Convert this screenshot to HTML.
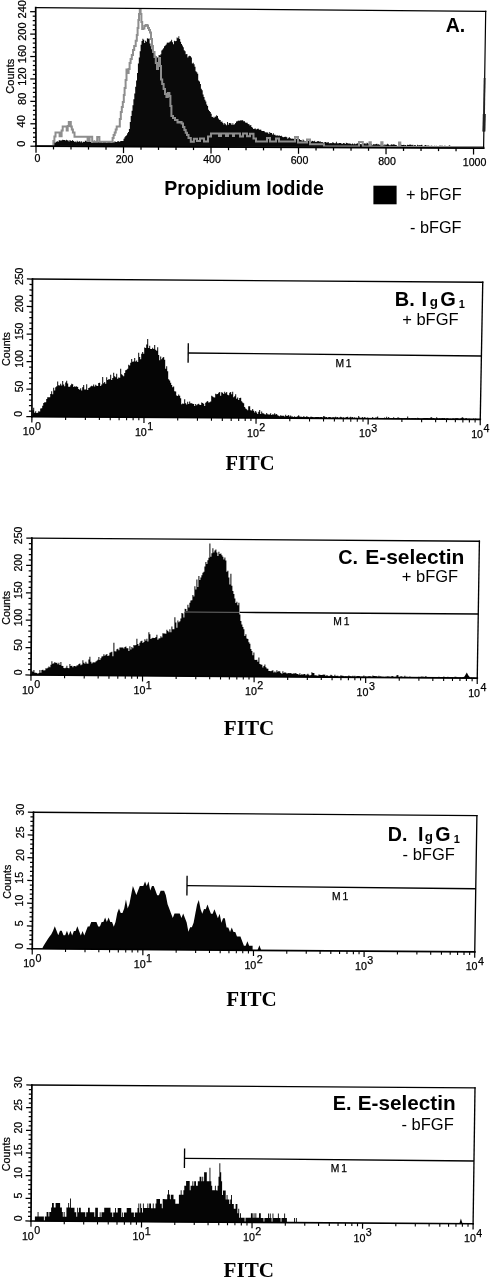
<!DOCTYPE html>
<html lang="en"><head><meta charset="utf-8"><title>Flow cytometry histograms</title>
<style>html,body{margin:0;padding:0;background:#fff}body{width:490px;height:1280px;overflow:hidden}svg{display:block}text{fill:#000}</style>
</head><body>
<svg width="490" height="1280" viewBox="0 0 490 1280">
<rect width="490" height="1280" fill="#fff"/>
<g id="panelA">
<path d="M51.5 146.57 L51.5 146.25 L52.4 146.25 L52.4 144.9 L53.3 144.9 L53.3 143.14 L54.2 143.14 L54.2 142.3 L55.1 142.3 L55.1 142.43 L56 142.43 L56 141.66 L56.9 141.66 L56.9 141.25 L57.8 141.25 L57.8 141.86 L58.7 141.86 L58.7 140.32 L59.6 140.32 L59.6 140.32 L60.5 140.32 L60.5 140.72 L61.4 140.72 L61.4 140.32 L62.3 140.32 L62.3 139.84 L63.2 139.84 L63.2 140.07 L64.1 140.07 L64.1 139.92 L65 139.92 L65 140.53 L65.9 140.53 L65.9 139.79 L66.8 139.79 L66.8 140.28 L67.7 140.28 L67.7 140.47 L68.6 140.47 L68.6 141.47 L69.5 141.47 L69.5 139.97 L70.4 139.97 L70.4 140.75 L71.3 140.75 L71.3 141.05 L72.2 141.05 L72.2 139.94 L73.1 139.94 L73.1 141.03 L74 141.03 L74 141.8 L74.9 141.8 L74.9 141.38 L75.8 141.38 L75.8 142.37 L76.7 142.37 L76.7 140.87 L77.6 140.87 L77.6 141.66 L78.5 141.66 L78.5 141.85 L79.4 141.85 L79.4 141.01 L80.3 141.01 L80.3 142.3 L81.2 142.3 L81.2 141.27 L82.1 141.27 L82.1 142.51 L83 142.51 L83 141.85 L83.9 141.85 L83.9 142.12 L84.8 142.12 L84.8 140.87 L85.7 140.87 L85.7 140.73 L86.6 140.73 L86.6 141.73 L87.5 141.73 L87.5 141.18 L88.4 141.18 L88.4 141.67 L89.3 141.67 L89.3 141.33 L90.2 141.33 L90.2 141.96 L91.1 141.96 L91.1 142.42 L92 142.42 L92 142.49 L92.9 142.49 L92.9 141.48 L93.8 141.48 L93.8 140.62 L94.7 140.62 L94.7 141.57 L95.6 141.57 L95.6 141.96 L96.5 141.96 L96.5 140.84 L97.4 140.84 L97.4 141.64 L98.3 141.64 L98.3 141.72 L99.2 141.72 L99.2 141.67 L100.1 141.67 L100.1 141.86 L101 141.86 L101 141.94 L101.9 141.94 L101.9 142.47 L102.8 142.47 L102.8 141.57 L103.7 141.57 L103.7 141.84 L104.6 141.84 L104.6 141.24 L105.5 141.24 L105.5 141.97 L106.4 141.97 L106.4 142.69 L107.3 142.69 L107.3 141.85 L108.2 141.85 L108.2 141.01 L109.1 141.01 L109.1 141.98 L110 141.98 L110 142.22 L110.9 142.22 L110.9 142.38 L111.8 142.38 L111.8 142.33 L112.7 142.33 L112.7 142.01 L113.6 142.01 L113.6 142.44 L114.5 142.44 L114.5 141.22 L115.4 141.22 L115.4 142.07 L116.3 142.07 L116.3 141.91 L117.2 141.91 L117.2 141.31 L118.1 141.31 L118.1 141.28 L119 141.28 L119 141.84 L119.9 141.84 L119.9 141.34 L120.8 141.34 L120.8 140.91 L121.7 140.91 L121.7 141.12 L122.6 141.12 L122.6 140.99 L123.5 140.99 L123.5 138.73 L124.4 138.73 L124.4 137.31 L125.3 137.31 L125.3 135.99 L126.2 135.99 L126.2 135.21 L127.1 135.21 L127.1 133.26 L128 133.26 L128 131.99 L128.9 131.99 L128.9 128.88 L129.8 128.88 L129.8 121.97 L130.7 121.97 L130.7 115.96 L131.6 115.96 L131.6 110.86 L132.5 110.86 L132.5 105.18 L133.4 105.18 L133.4 99.29 L134.3 99.29 L134.3 93.48 L135.2 93.48 L135.2 86.74 L136.1 86.74 L136.1 80.57 L137 80.57 L137 73.11 L137.9 73.11 L137.9 63.56 L138.8 63.56 L138.8 57.51 L139.7 57.51 L139.7 51.34 L140.6 51.34 L140.6 44.67 L141.5 44.67 L141.5 41 L142.4 41 L142.4 38.68 L143.3 38.68 L143.3 39.66 L144.2 39.66 L144.2 43.01 L145.1 43.01 L145.1 40.68 L146 40.68 L146 41.73 L146.9 41.73 L146.9 38.18 L147.8 38.18 L147.8 38.82 L148.7 38.82 L148.7 38.42 L149.6 38.42 L149.6 43.54 L150.5 43.54 L150.5 46.36 L151.4 46.36 L151.4 49.23 L152.3 49.23 L152.3 51.11 L153.2 51.11 L153.2 52.91 L154.1 52.91 L154.1 56.29 L155 56.29 L155 55.78 L155.9 55.78 L155.9 56.37 L156.8 56.37 L156.8 57.31 L157.7 57.31 L157.7 57.97 L158.6 57.97 L158.6 54.98 L159.5 54.98 L159.5 55.61 L160.4 55.61 L160.4 54.24 L161.3 54.24 L161.3 50.62 L162.2 50.62 L162.2 49.44 L163.1 49.44 L163.1 48.37 L164 48.37 L164 46.23 L164.9 46.23 L164.9 45.51 L165.8 45.51 L165.8 44.54 L166.7 44.54 L166.7 42.66 L167.6 42.66 L167.6 42.54 L168.5 42.54 L168.5 42.79 L169.4 42.79 L169.4 41.71 L170.3 41.71 L170.3 41.35 L171.2 41.35 L171.2 39.86 L172.1 39.86 L172.1 42.25 L173 42.25 L173 44.33 L173.9 44.33 L173.9 40.63 L174.8 40.63 L174.8 41.2 L175.7 41.2 L175.7 40.9 L176.6 40.9 L176.6 37.38 L177.5 37.38 L177.5 38.26 L178.4 38.26 L178.4 36.17 L179.3 36.17 L179.3 38.97 L180.2 38.97 L180.2 41.76 L181.1 41.76 L181.1 44.08 L182 44.08 L182 45.4 L182.9 45.4 L182.9 47.34 L183.8 47.34 L183.8 50.2 L184.7 50.2 L184.7 51.16 L185.6 51.16 L185.6 54.33 L186.5 54.33 L186.5 54.07 L187.4 54.07 L187.4 57.45 L188.3 57.45 L188.3 56.16 L189.2 56.16 L189.2 55.73 L190.1 55.73 L190.1 56.35 L191 56.35 L191 57.6 L191.9 57.6 L191.9 63.42 L192.8 63.42 L192.8 62.68 L193.7 62.68 L193.7 64.34 L194.6 64.34 L194.6 66.83 L195.5 66.83 L195.5 71.21 L196.4 71.21 L196.4 72.31 L197.3 72.31 L197.3 73.82 L198.2 73.82 L198.2 80.54 L199.1 80.54 L199.1 81.52 L200 81.52 L200 83.95 L200.9 83.95 L200.9 88.81 L201.8 88.81 L201.8 90.25 L202.7 90.25 L202.7 94.62 L203.6 94.62 L203.6 97.08 L204.5 97.08 L204.5 99.79 L205.4 99.79 L205.4 101.58 L206.3 101.58 L206.3 104.57 L207.2 104.57 L207.2 106.03 L208.1 106.03 L208.1 109.66 L209 109.66 L209 110.92 L209.9 110.92 L209.9 111.98 L210.8 111.98 L210.8 113.87 L211.7 113.87 L211.7 116.9 L212.6 116.9 L212.6 116.8 L213.5 116.8 L213.5 118.08 L214.4 118.08 L214.4 116.85 L215.3 116.85 L215.3 116.38 L216.2 116.38 L216.2 115.35 L217.1 115.35 L217.1 116.01 L218 116.01 L218 118.48 L218.9 118.48 L218.9 119.87 L219.8 119.87 L219.8 120.04 L220.7 120.04 L220.7 121.78 L221.6 121.78 L221.6 121.48 L222.5 121.48 L222.5 122.88 L223.4 122.88 L223.4 124.38 L224.3 124.38 L224.3 123.11 L225.2 123.11 L225.2 124.37 L226.1 124.37 L226.1 125.16 L227 125.16 L227 122.02 L227.9 122.02 L227.9 124.82 L228.8 124.82 L228.8 123.03 L229.7 123.03 L229.7 122.92 L230.6 122.92 L230.6 123.62 L231.5 123.62 L231.5 125.07 L232.4 125.07 L232.4 123.21 L233.3 123.21 L233.3 124.76 L234.2 124.76 L234.2 124.16 L235.1 124.16 L235.1 122.9 L236 122.9 L236 121.5 L236.9 121.5 L236.9 121.33 L237.8 121.33 L237.8 120.45 L238.7 120.45 L238.7 120.92 L239.6 120.92 L239.6 120.22 L240.5 120.22 L240.5 120.48 L241.4 120.48 L241.4 120.35 L242.3 120.35 L242.3 120.15 L243.2 120.15 L243.2 121.32 L244.1 121.32 L244.1 121.16 L245 121.16 L245 122.38 L245.9 122.38 L245.9 122.81 L246.8 122.81 L246.8 122.87 L247.7 122.87 L247.7 123.91 L248.6 123.91 L248.6 124.21 L249.5 124.21 L249.5 125.39 L250.4 125.39 L250.4 125.05 L251.3 125.05 L251.3 127.06 L252.2 127.06 L252.2 127.7 L253.1 127.7 L253.1 128.88 L254 128.88 L254 128.78 L254.9 128.78 L254.9 128.38 L255.8 128.38 L255.8 129.39 L256.7 129.39 L256.7 128.97 L257.6 128.97 L257.6 128.49 L258.5 128.49 L258.5 129.35 L259.4 129.35 L259.4 130.1 L260.3 130.1 L260.3 129.59 L261.2 129.59 L261.2 130.65 L262.1 130.65 L262.1 130.94 L263 130.94 L263 130.93 L263.9 130.93 L263.9 131.25 L264.8 131.25 L264.8 132.35 L265.7 132.35 L265.7 132.62 L266.6 132.62 L266.6 132.25 L267.5 132.25 L267.5 132.67 L268.4 132.67 L268.4 133.93 L269.3 133.93 L269.3 132.08 L270.2 132.08 L270.2 133.06 L271.1 133.06 L271.1 132.94 L272 132.94 L272 134.44 L272.9 134.44 L272.9 133.25 L273.8 133.25 L273.8 134.72 L274.7 134.72 L274.7 134.74 L275.6 134.74 L275.6 135.84 L276.5 135.84 L276.5 135.31 L277.4 135.31 L277.4 135.56 L278.3 135.56 L278.3 135.74 L279.2 135.74 L279.2 135.59 L280.1 135.59 L280.1 136.02 L281 136.02 L281 135.7 L281.9 135.7 L281.9 136.75 L282.8 136.75 L282.8 137.27 L283.7 137.27 L283.7 136.94 L284.6 136.94 L284.6 136.79 L285.5 136.79 L285.5 136.67 L286.4 136.67 L286.4 137.14 L287.3 137.14 L287.3 138.81 L288.2 138.81 L288.2 137.82 L289.1 137.82 L289.1 137.35 L290 137.35 L290 138.25 L290.9 138.25 L290.9 138.7 L291.8 138.7 L291.8 138.38 L292.7 138.38 L292.7 138.95 L293.6 138.95 L293.6 138.46 L294.5 138.46 L294.5 138.95 L295.4 138.95 L295.4 138.32 L296.3 138.32 L296.3 138.93 L297.2 138.93 L297.2 139.71 L298.1 139.71 L298.1 139.13 L299 139.13 L299 139.08 L299.9 139.08 L299.9 140 L300.8 140 L300.8 140.05 L301.7 140.05 L301.7 141.15 L302.6 141.15 L302.6 139.6 L303.5 139.6 L303.5 140.5 L304.4 140.5 L304.4 141.41 L305.3 141.41 L305.3 141.35 L306.2 141.35 L306.2 140.67 L307.1 140.67 L307.1 140.28 L308 140.28 L308 140.83 L308.9 140.83 L308.9 140.66 L309.8 140.66 L309.8 141.57 L310.7 141.57 L310.7 141.8 L311.6 141.8 L311.6 140.81 L312.5 140.81 L312.5 141.1 L313.4 141.1 L313.4 141.43 L314.3 141.43 L314.3 140.86 L315.2 140.86 L315.2 142.04 L316.1 142.04 L316.1 141.85 L317 141.85 L317 141.22 L317.9 141.22 L317.9 140.9 L318.8 140.9 L318.8 141.87 L319.7 141.87 L319.7 141.14 L320.6 141.14 L320.6 142.32 L321.5 142.32 L321.5 141.95 L322.4 141.95 L322.4 142.26 L323.3 142.26 L323.3 143.01 L324.2 143.01 L324.2 142.21 L325.1 142.21 L325.1 141.96 L326 141.96 L326 142.52 L326.9 142.52 L326.9 142.53 L327.8 142.53 L327.8 141.89 L328.7 141.89 L328.7 143.19 L329.6 143.19 L329.6 143.35 L330.5 143.35 L330.5 143 L331.4 143 L331.4 143.3 L332.3 143.3 L332.3 142.16 L333.2 142.16 L333.2 142.69 L334.1 142.69 L334.1 143.29 L335 143.29 L335 143.22 L335.9 143.22 L335.9 141.66 L336.8 141.66 L336.8 143.31 L337.7 143.31 L337.7 143.43 L338.6 143.43 L338.6 142.99 L339.5 142.99 L339.5 142.88 L340.4 142.88 L340.4 143.11 L341.3 143.11 L341.3 143.65 L342.2 143.65 L342.2 143.79 L343.1 143.79 L343.1 143.02 L344 143.02 L344 143.34 L344.9 143.34 L344.9 144.09 L345.8 144.09 L345.8 142.84 L346.7 142.84 L346.7 143.05 L347.6 143.05 L347.6 143.54 L348.5 143.54 L348.5 143.57 L349.4 143.57 L349.4 143.38 L350.3 143.38 L350.3 143.82 L351.2 143.82 L351.2 144.14 L352.1 144.14 L352.1 143.42 L353 143.42 L353 144.24 L353.9 144.24 L353.9 143.44 L354.8 143.44 L354.8 144.29 L355.7 144.29 L355.7 143.72 L356.6 143.72 L356.6 143.76 L357.5 143.76 L357.5 142.93 L358.4 142.93 L358.4 144.23 L359.3 144.23 L359.3 144.41 L360.2 144.41 L360.2 144.09 L361.1 144.09 L361.1 144.33 L362 144.33 L362 144.12 L362.9 144.12 L362.9 143.7 L363.8 143.7 L363.8 143.57 L364.7 143.57 L364.7 143.21 L365.6 143.21 L365.6 144.29 L366.5 144.29 L366.5 142.83 L367.4 142.83 L367.4 143.15 L368.3 143.15 L368.3 144.14 L369.2 144.14 L369.2 145.08 L370.1 145.08 L370.1 144.14 L371 144.14 L371 144.1 L371.9 144.1 L371.9 145.16 L372.8 145.16 L372.8 144.15 L373.7 144.15 L373.7 144.3 L374.6 144.3 L374.6 144.58 L375.5 144.58 L375.5 143.99 L376.4 143.99 L376.4 143.86 L377.3 143.86 L377.3 144.53 L378.2 144.53 L378.2 144.25 L379.1 144.25 L379.1 144.66 L380 144.66 L380 144.74 L380.9 144.74 L380.9 144.39 L381.8 144.39 L381.8 144.22 L382.7 144.22 L382.7 144.71 L383.6 144.71 L383.6 145.44 L384.5 145.44 L384.5 144.26 L385.4 144.26 L385.4 145.22 L386.3 145.22 L386.3 144.51 L387.2 144.51 L387.2 143.82 L388.1 143.82 L388.1 144.61 L389 144.61 L389 145.13 L389.9 145.13 L389.9 145.27 L390.8 145.27 L390.8 144.17 L391.7 144.17 L391.7 144.7 L392.6 144.7 L392.6 144.49 L393.5 144.49 L393.5 144.35 L394.4 144.35 L394.4 144.78 L395.3 144.78 L395.3 144.91 L396.2 144.91 L396.2 145.2 L397.1 145.2 L397.1 146.12 L398 146.12 L398 145.49 L398.9 145.49 L398.9 144.9 L399.8 144.9 L399.8 144.97 L400.7 144.97 L400.7 144.75 L401.6 144.75 L401.6 144.98 L402.5 144.98 L402.5 144.88 L403.4 144.88 L403.4 144.64 L404.3 144.64 L404.3 145.36 L405.2 145.36 L405.2 145.12 L406.1 145.12 L406.1 145.69 L407 145.69 L407 144.64 L407.9 144.64 L407.9 145.04 L408.8 145.04 L408.8 144.87 L409.7 144.87 L409.7 144.45 L410.6 144.45 L410.6 144.67 L411.5 144.67 L411.5 145.15 L412.4 145.15 L412.4 144.82 L413.3 144.82 L413.3 145.76 L414.2 145.76 L414.2 145.01 L415.1 145.01 L415.1 145.14 L416 145.14 L416 145.89 L416.9 145.89 L416.9 144.69 L417.8 144.69 L417.8 145.54 L418.7 145.54 L418.7 144.99 L419.6 144.99 L419.6 145.46 L420.5 145.46 L420.5 144.91 L421.4 144.91 L421.4 144.8 L422.3 144.8 L422.3 145.7 L423.2 145.7 L423.2 146 L424.1 146 L424.1 145.46 L425 145.46 L425 145.08 L425.9 145.08 L425.9 145.6 L426.8 145.6 L426.8 145.72 L427.7 145.72 L427.7 145.3 L428.6 145.3 L428.6 146.63 L429.5 146.63 L429.5 145.81 L430.4 145.81 L430.4 146.12 L431.3 146.12 L431.3 145.46 L432.2 145.46 L432.2 145.9 L433.1 145.9 L433.1 146.07 L434 146.07 L434 145.79 L434.9 145.79 L434.9 146.26 L435.8 146.26 L435.8 145.7 L436.7 145.7 L436.7 145.99 L437.6 145.99 L437.6 145.89 L438.5 145.89 L438.5 146.05 L439.4 146.05 L439.4 145.42 L440.3 145.42 L440.3 145.86 L441.2 145.86 L441.2 145.64 L442.1 145.64 L442.1 145.7 L443 145.7 L443 146.24 L443.9 146.24 L443.9 145.73 L444.8 145.73 L444.8 145.86 L445.7 145.86 L445.7 145.91 L446.6 145.91 L446.6 146.22 L447.5 146.22 L447.5 146.26 L448.4 146.26 L448.4 145.83 L449.3 145.83 L449.3 145.33 L450.2 145.33 L450.2 146.53 L451.1 146.53 L451.1 146.04 L452 146.04 L452 146.42 L452.9 146.42 L452.9 146.02 L453.8 146.02 L453.8 146.19 L454.7 146.19 L454.7 145.99 L455.6 145.99 L455.6 147.47 L456.5 147.47 L456.5 146.68 L457.4 146.68 L457.4 146.86 L458.3 146.86 L458.3 146.57 L459.2 146.57 L459.2 146.84 L460.1 146.84 L460.1 146.84 L461 146.84 L461 146.38 L461.9 146.38 L461.9 145.97 L462.8 145.97 L462.8 147.72 L463.7 147.72 L463.7 146.84 L464.6 146.84 L464.6 146.64 L465.5 146.64 L465.5 146.78 L466.4 146.78 L466.4 146.94 L467.3 146.94 L467.3 147.33 L468.2 147.33 L468.2 147.21 L469.1 147.21 L469.1 146.64 L470 146.64 L470 146.55 L470.9 146.55 L470.9 146.93 L471.8 146.93 L471.8 147.29 L472.7 147.29 L472.7 146.99 L473.6 146.99 L473.6 147.14 L474.5 147.14 L474.5 146.89 L475.4 146.89 L475.4 147.07 L476.3 147.07 L476.3 147.36 L477.2 147.36 L477.2 147.11 L477.2 148.37 Z" fill="#0a0a0a"/>
<path d="M36.5 146 L52.4 146 L53.4 146 L53.4 141 L54.4 141 L54.4 136.5 L55.5 136.5 L55.5 132.6 L58.6 132.6 L59.6 132.6 L59.6 136.3 L60.6 136.3 L61.6 136.3 L61.6 130.5 L62.7 130.5 L62.7 126.5 L65.7 126.5 L66.7 126.5 L66.7 130.6 L67.7 130.6 L67.7 126 L68.8 126 L68.8 122 L69.8 122 L70.8 122 L70.8 126.5 L71.8 126.5 L71.8 129.5 L72.9 129.5 L72.9 132.6 L74.5 132.6 L74.5 136.7 L87 136.7 L87.6 136.7 L87.6 140.8 L88.6 140.8 L89.6 140.8 L89.6 136.7 L91.4 136.7 L92.2 136.7 L92.2 141.8 L96.3 141.8 L97.2 141.8 L97.2 137 L98.6 137 L99.4 137 L99.4 141.8 L111.6 141.8 L112.6 141.8 L112.6 138 L113.6 138 L113.6 135 L114.7 135 L114.7 132.6 L115.7 132.6 L115.7 129.5 L116.7 129.5 L116.7 126.5 L118.8 126.5 L119.8 126.5 L119.8 119 L120.8 119 L120.8 112 L121.8 112 L121.8 107 L122.8 107 L122.8 102 L123.8 102 L123.8 95 L124.6 95 L124.6 88 L125.6 88 L125.6 80 L126.5 80 L126.5 69.4 L127.4 69.4 L127.4 73 L128.6 73 L128.6 69 L129.6 69 L129.6 63 L130.6 63 L130.6 59 L131.8 59 L131.8 55 L133 55 L133 50 L134.2 50 L134.2 46 L135.7 46 L135.7 40.8 L136.8 40.8 L136.8 35 L137.6 35 L137.6 28 L138.4 28 L138.4 20 L139 20 L139 14 L139.8 14 L139.8 9.8 L140.6 9.8 L140.6 14 L141.4 14 L141.4 22 L142.2 22 L142.2 29 L143.2 29 L143.2 28.6 L144.4 28.6 L144.4 26 L145.6 26 L145.6 25 L147 25 L147 25.5 L148 25.5 L148 28 L149 28 L149 30 L150 30 L150 32.6 L151 32.6 L151 39 L152 39 L152 46 L153 46 L153 52 L154.5 52 L154.5 57 L155.8 57 L155.8 63 L157 63 L157 69 L158 69 L158 63 L159 63 L159 58 L160 58 L160 66 L161 66 L161 79.6 L162.2 79.6 L162.2 84 L163.6 84 L163.6 89 L165 89 L165 94 L166.4 94 L166.4 97 L167.8 97 L167.8 93 L169.4 93 L169.4 96 L170.4 96 L170.4 106 L171.4 106 L171.4 116 L173 116 L173 118 L175 118 L175 120 L177.5 120 L177.5 122.4 L179.5 122.4 L179.5 122 L181.6 122 L181.6 123.5 L183 123.5 L183 127 L184.4 127 L184.4 130 L185.7 130 L185.7 132.7 L187 132.7 L187 135 L188.5 135 L188.5 138 L190.8 138 L190.8 141.8 L192.4 141.8 L193.9 141.8 L193.9 138.8 L196 138.8 L197 138.8 L197 141 L199 141 L200 141 L200 138.6 L203 138.6 L204 138.6 L204 141.4 L207 141.4 L208 141.4 L208 136.5 L210 136.5 L211 136.5 L211 133.6 L218 133.6 L219 133.6 L219 136 L220 136 L221 136 L221 133.6 L225 133.6 L226 133.6 L226 136 L227 136 L228 136 L228 133.6 L232 133.6 L233 133.6 L233 136 L234 136 L234 133.6 L239 133.6 L240 133.6 L240 136.4 L242 136.4 L243 136.4 L243 133.6 L246 133.6 L247 133.6 L247 136.2 L249 136.2 L250 136.2 L250 133.8 L252.5 133.8 L253.5 133.8 L253.5 138.5 L255 138.5 L256 138.5 L256 141.4 L266 141.4 L267 141.4 L267 138 L269 138 L270 138 L270 141.4 L275 141.4 L276 141.4 L276 138.4 L278 138.4 L279 138.4 L279 141.5 L294 141.5 L295 141.5 L295 137 L297 137 L298 137 L298 142.6 L306 142.6 L307 142.6 L307 139.5 L309 139.5 L310 139.5 L310 144.2 L323 144.2 L324 144.2 L324 146.4 L358.6 146.4 L359 146.4 L359 142 L362.4 142 L362.8 142 L362.8 146.6 L369.2 146.6 L369.5 146.6 L369.5 142.2 L370.5 142.2 L370.8 142.2 L370.8 146.7 L381 146.7 L381.3 146.7 L381.3 142.2 L382.2 142.2 L382.5 142.2 L382.5 146.9 L398.6 146.9 L399 146.9 L399 142.4 L400 142.4 L400.3 142.4 L400.3 147 L483.2 147 L483.2 147.6" fill="none" stroke="#8e8e8e" stroke-width="2" stroke-linejoin="miter"/>
<line x1="60" y1="146.3" x2="483.4" y2="148" stroke="#777" stroke-width="1.2" stroke-linecap="butt"/>
<line x1="35.7" y1="7.6" x2="485.7" y2="11.4" stroke="#000" stroke-width="1.3" stroke-linecap="square"/>
<line x1="485.7" y1="11.4" x2="483.6" y2="148.1" stroke="#000" stroke-width="1.2" stroke-linecap="square"/>
<line x1="35.7" y1="7.6" x2="36" y2="146.2" stroke="#000" stroke-width="1.7" stroke-linecap="square"/>
<line x1="36" y1="146.2" x2="483.6" y2="148.1" stroke="#000" stroke-width="1.8" stroke-linecap="square"/>
<line x1="484.6" y1="78" x2="483.8" y2="131.5" stroke="#222" stroke-width="1.8" stroke-linecap="butt"/>
<line x1="484.3" y1="114" x2="483.9" y2="131.5" stroke="#222" stroke-width="3" stroke-linecap="butt"/>
<line x1="30.4" y1="146.2" x2="36" y2="146.2" stroke="#000" stroke-width="1.25" stroke-linecap="butt"/>
<line x1="32.99" y1="141.72" x2="35.99" y2="141.72" stroke="#000" stroke-width="1.25" stroke-linecap="butt"/>
<line x1="32.98" y1="137.23" x2="35.98" y2="137.23" stroke="#000" stroke-width="1.25" stroke-linecap="butt"/>
<line x1="32.97" y1="132.75" x2="35.97" y2="132.75" stroke="#000" stroke-width="1.25" stroke-linecap="butt"/>
<line x1="32.96" y1="128.27" x2="35.96" y2="128.27" stroke="#000" stroke-width="1.25" stroke-linecap="butt"/>
<line x1="30.35" y1="123.78" x2="35.95" y2="123.78" stroke="#000" stroke-width="1.25" stroke-linecap="butt"/>
<line x1="32.94" y1="119.3" x2="35.94" y2="119.3" stroke="#000" stroke-width="1.25" stroke-linecap="butt"/>
<line x1="32.93" y1="114.81" x2="35.93" y2="114.81" stroke="#000" stroke-width="1.25" stroke-linecap="butt"/>
<line x1="32.92" y1="110.33" x2="35.92" y2="110.33" stroke="#000" stroke-width="1.25" stroke-linecap="butt"/>
<line x1="32.91" y1="105.85" x2="35.91" y2="105.85" stroke="#000" stroke-width="1.25" stroke-linecap="butt"/>
<line x1="30.3" y1="101.36" x2="35.9" y2="101.36" stroke="#000" stroke-width="1.25" stroke-linecap="butt"/>
<line x1="32.89" y1="96.88" x2="35.89" y2="96.88" stroke="#000" stroke-width="1.25" stroke-linecap="butt"/>
<line x1="32.88" y1="92.4" x2="35.88" y2="92.4" stroke="#000" stroke-width="1.25" stroke-linecap="butt"/>
<line x1="32.87" y1="87.91" x2="35.87" y2="87.91" stroke="#000" stroke-width="1.25" stroke-linecap="butt"/>
<line x1="32.86" y1="83.43" x2="35.86" y2="83.43" stroke="#000" stroke-width="1.25" stroke-linecap="butt"/>
<line x1="30.25" y1="78.95" x2="35.85" y2="78.95" stroke="#000" stroke-width="1.25" stroke-linecap="butt"/>
<line x1="32.84" y1="74.46" x2="35.84" y2="74.46" stroke="#000" stroke-width="1.25" stroke-linecap="butt"/>
<line x1="32.84" y1="69.98" x2="35.84" y2="69.98" stroke="#000" stroke-width="1.25" stroke-linecap="butt"/>
<line x1="32.83" y1="65.49" x2="35.83" y2="65.49" stroke="#000" stroke-width="1.25" stroke-linecap="butt"/>
<line x1="32.82" y1="61.01" x2="35.82" y2="61.01" stroke="#000" stroke-width="1.25" stroke-linecap="butt"/>
<line x1="30.21" y1="56.53" x2="35.81" y2="56.53" stroke="#000" stroke-width="1.25" stroke-linecap="butt"/>
<line x1="32.8" y1="52.04" x2="35.8" y2="52.04" stroke="#000" stroke-width="1.25" stroke-linecap="butt"/>
<line x1="32.79" y1="47.56" x2="35.79" y2="47.56" stroke="#000" stroke-width="1.25" stroke-linecap="butt"/>
<line x1="32.78" y1="43.08" x2="35.78" y2="43.08" stroke="#000" stroke-width="1.25" stroke-linecap="butt"/>
<line x1="32.77" y1="38.59" x2="35.77" y2="38.59" stroke="#000" stroke-width="1.25" stroke-linecap="butt"/>
<line x1="30.16" y1="34.11" x2="35.76" y2="34.11" stroke="#000" stroke-width="1.25" stroke-linecap="butt"/>
<line x1="32.75" y1="29.63" x2="35.75" y2="29.63" stroke="#000" stroke-width="1.25" stroke-linecap="butt"/>
<line x1="32.74" y1="25.14" x2="35.74" y2="25.14" stroke="#000" stroke-width="1.25" stroke-linecap="butt"/>
<line x1="32.73" y1="20.66" x2="35.73" y2="20.66" stroke="#000" stroke-width="1.25" stroke-linecap="butt"/>
<line x1="32.72" y1="16.17" x2="35.72" y2="16.17" stroke="#000" stroke-width="1.25" stroke-linecap="butt"/>
<line x1="30.11" y1="11.69" x2="35.71" y2="11.69" stroke="#000" stroke-width="1.25" stroke-linecap="butt"/>
<text x="25.28" y="143.7" font-family='"Liberation Sans", Arial, Helvetica, sans-serif' font-size="11" font-weight="normal" text-anchor="middle" transform="rotate(-90 25.28 143.7)" stroke="#000" stroke-width="0.25">0</text>
<text x="25.47" y="121.28" font-family='"Liberation Sans", Arial, Helvetica, sans-serif' font-size="11" font-weight="normal" text-anchor="middle" transform="rotate(-90 25.47 121.28)" stroke="#000" stroke-width="0.25">40</text>
<text x="25.66" y="98.86" font-family='"Liberation Sans", Arial, Helvetica, sans-serif' font-size="11" font-weight="normal" text-anchor="middle" transform="rotate(-90 25.66 98.86)" stroke="#000" stroke-width="0.25">80</text>
<text x="25.85" y="76.45" font-family='"Liberation Sans", Arial, Helvetica, sans-serif' font-size="11" font-weight="normal" text-anchor="middle" transform="rotate(-90 25.85 76.45)" stroke="#000" stroke-width="0.25">120</text>
<text x="26.04" y="54.03" font-family='"Liberation Sans", Arial, Helvetica, sans-serif' font-size="11" font-weight="normal" text-anchor="middle" transform="rotate(-90 26.04 54.03)" stroke="#000" stroke-width="0.25">160</text>
<text x="26.23" y="31.61" font-family='"Liberation Sans", Arial, Helvetica, sans-serif' font-size="11" font-weight="normal" text-anchor="middle" transform="rotate(-90 26.23 31.61)" stroke="#000" stroke-width="0.25">200</text>
<text x="26.42" y="9.19" font-family='"Liberation Sans", Arial, Helvetica, sans-serif' font-size="11" font-weight="normal" text-anchor="middle" transform="rotate(-90 26.42 9.19)" stroke="#000" stroke-width="0.25">240</text>
<text x="13.8" y="76.2" font-family='"Liberation Sans", Arial, Helvetica, sans-serif' font-size="11" font-weight="normal" text-anchor="middle" transform="rotate(-90 13.8 76.2)" stroke="#000" stroke-width="0.25">Counts</text>
<line x1="36" y1="146.2" x2="36" y2="152.7" stroke="#000" stroke-width="1.25" stroke-linecap="butt"/>
<line x1="53.5" y1="146.27" x2="53.5" y2="149.47" stroke="#000" stroke-width="1.25" stroke-linecap="butt"/>
<line x1="71" y1="146.35" x2="71" y2="149.55" stroke="#000" stroke-width="1.25" stroke-linecap="butt"/>
<line x1="88.5" y1="146.42" x2="88.5" y2="149.62" stroke="#000" stroke-width="1.25" stroke-linecap="butt"/>
<line x1="106.01" y1="146.5" x2="106.01" y2="149.7" stroke="#000" stroke-width="1.25" stroke-linecap="butt"/>
<line x1="123.51" y1="146.57" x2="123.51" y2="153.07" stroke="#000" stroke-width="1.25" stroke-linecap="butt"/>
<line x1="141.01" y1="146.65" x2="141.01" y2="149.85" stroke="#000" stroke-width="1.25" stroke-linecap="butt"/>
<line x1="158.51" y1="146.72" x2="158.51" y2="149.92" stroke="#000" stroke-width="1.25" stroke-linecap="butt"/>
<line x1="176.01" y1="146.79" x2="176.01" y2="149.99" stroke="#000" stroke-width="1.25" stroke-linecap="butt"/>
<line x1="193.51" y1="146.87" x2="193.51" y2="150.07" stroke="#000" stroke-width="1.25" stroke-linecap="butt"/>
<line x1="211.01" y1="146.94" x2="211.01" y2="153.44" stroke="#000" stroke-width="1.25" stroke-linecap="butt"/>
<line x1="228.52" y1="147.02" x2="228.52" y2="150.22" stroke="#000" stroke-width="1.25" stroke-linecap="butt"/>
<line x1="246.02" y1="147.09" x2="246.02" y2="150.29" stroke="#000" stroke-width="1.25" stroke-linecap="butt"/>
<line x1="263.52" y1="147.17" x2="263.52" y2="150.37" stroke="#000" stroke-width="1.25" stroke-linecap="butt"/>
<line x1="281.02" y1="147.24" x2="281.02" y2="150.44" stroke="#000" stroke-width="1.25" stroke-linecap="butt"/>
<line x1="298.52" y1="147.31" x2="298.52" y2="153.81" stroke="#000" stroke-width="1.25" stroke-linecap="butt"/>
<line x1="316.02" y1="147.39" x2="316.02" y2="150.59" stroke="#000" stroke-width="1.25" stroke-linecap="butt"/>
<line x1="333.52" y1="147.46" x2="333.52" y2="150.66" stroke="#000" stroke-width="1.25" stroke-linecap="butt"/>
<line x1="351.03" y1="147.54" x2="351.03" y2="150.74" stroke="#000" stroke-width="1.25" stroke-linecap="butt"/>
<line x1="368.53" y1="147.61" x2="368.53" y2="150.81" stroke="#000" stroke-width="1.25" stroke-linecap="butt"/>
<line x1="386.03" y1="147.69" x2="386.03" y2="154.19" stroke="#000" stroke-width="1.25" stroke-linecap="butt"/>
<line x1="403.53" y1="147.76" x2="403.53" y2="150.96" stroke="#000" stroke-width="1.25" stroke-linecap="butt"/>
<line x1="421.03" y1="147.83" x2="421.03" y2="151.03" stroke="#000" stroke-width="1.25" stroke-linecap="butt"/>
<line x1="438.53" y1="147.91" x2="438.53" y2="151.11" stroke="#000" stroke-width="1.25" stroke-linecap="butt"/>
<line x1="456.04" y1="147.98" x2="456.04" y2="151.18" stroke="#000" stroke-width="1.25" stroke-linecap="butt"/>
<line x1="473.54" y1="148.06" x2="473.54" y2="154.56" stroke="#000" stroke-width="1.25" stroke-linecap="butt"/>
<text x="37.5" y="162" font-family='"Liberation Sans", Arial, Helvetica, sans-serif' font-size="10.6" font-weight="normal" text-anchor="middle" stroke="#000" stroke-width="0.25">0</text>
<text x="124.51" y="162.7" font-family='"Liberation Sans", Arial, Helvetica, sans-serif' font-size="10.6" font-weight="normal" text-anchor="middle" stroke="#000" stroke-width="0.25">200</text>
<text x="212.01" y="163.41" font-family='"Liberation Sans", Arial, Helvetica, sans-serif' font-size="10.6" font-weight="normal" text-anchor="middle" stroke="#000" stroke-width="0.25">400</text>
<text x="299.52" y="164.11" font-family='"Liberation Sans", Arial, Helvetica, sans-serif' font-size="10.6" font-weight="normal" text-anchor="middle" stroke="#000" stroke-width="0.25">600</text>
<text x="387.03" y="164.82" font-family='"Liberation Sans", Arial, Helvetica, sans-serif' font-size="10.6" font-weight="normal" text-anchor="middle" stroke="#000" stroke-width="0.25">800</text>
<text x="474.54" y="165.52" font-family='"Liberation Sans", Arial, Helvetica, sans-serif' font-size="10.6" font-weight="normal" text-anchor="middle" stroke="#000" stroke-width="0.25">1000</text>
<text x="455.5" y="31.5" font-family='"Liberation Sans", Arial, Helvetica, sans-serif' font-size="19.5" font-weight="bold" text-anchor="middle">A.</text>
<text x="164.2" y="195.2" font-family='"Liberation Sans", Arial, Helvetica, sans-serif' font-size="19.4" font-weight="bold" text-anchor="start" textLength="159.6" lengthAdjust="spacingAndGlyphs">Propidium Iodide</text>
<rect x="373.4" y="185.7" width="23.2" height="18.6" fill="#000"/>
<text x="406" y="199.7" font-family='"Liberation Sans", Arial, Helvetica, sans-serif' font-size="16.3" font-weight="normal" text-anchor="start">+ bFGF</text>
<text x="410" y="232.9" font-family='"Liberation Sans", Arial, Helvetica, sans-serif' font-size="16.3" font-weight="normal" text-anchor="start">- bFGF</text>
</g>
<g id="panelB">
<path d="M32.2 416.9 L32.2 410.27 L33.2 410.27 L33.2 407.81 L34.2 407.81 L34.2 412.86 L35.2 412.86 L35.2 411.37 L36.2 411.37 L36.2 412.99 L37.2 412.99 L37.2 412.76 L38.2 412.76 L38.2 411.23 L39.2 411.23 L39.2 411.53 L40.2 411.53 L40.2 408.62 L41.2 408.62 L41.2 408.18 L42.2 408.18 L42.2 405.7 L43.2 405.7 L43.2 403.07 L44.2 403.07 L44.2 402.18 L45.2 402.18 L45.2 402.18 L46.2 402.18 L46.2 398.98 L47.2 398.98 L47.2 397.19 L48.2 397.19 L48.2 397.21 L49.2 397.21 L49.2 397.32 L50.2 397.32 L50.2 394.09 L51.2 394.09 L51.2 391.15 L52.2 391.15 L52.2 394.31 L53.2 394.31 L53.2 387.71 L54.2 387.71 L54.2 390.38 L55.2 390.38 L55.2 387.18 L56.2 387.18 L56.2 386.18 L57.2 386.18 L57.2 381.39 L58.2 381.39 L58.2 385.24 L59.2 385.24 L59.2 385.6 L60.2 385.6 L60.2 383.86 L61.2 383.86 L61.2 385.49 L62.2 385.49 L62.2 381.1 L63.2 381.1 L63.2 384.62 L64.2 384.62 L64.2 386.32 L65.2 386.32 L65.2 382.38 L66.2 382.38 L66.2 380.84 L67.2 380.84 L67.2 383.38 L68.2 383.38 L68.2 386.84 L69.2 386.84 L69.2 386.81 L70.2 386.81 L70.2 385.2 L71.2 385.2 L71.2 383.79 L72.2 383.79 L72.2 384.22 L73.2 384.22 L73.2 387.09 L74.2 387.09 L74.2 386.26 L75.2 386.26 L75.2 386.66 L76.2 386.66 L76.2 386.36 L77.2 386.36 L77.2 387 L78.2 387 L78.2 388.97 L79.2 388.97 L79.2 389.8 L80.2 389.8 L80.2 388.15 L81.2 388.15 L81.2 390.43 L82.2 390.43 L82.2 387.27 L83.2 387.27 L83.2 385.02 L84.2 385.02 L84.2 389.54 L85.2 389.54 L85.2 389.43 L86.2 389.43 L86.2 384.3 L87.2 384.3 L87.2 390.01 L88.2 390.01 L88.2 387.89 L89.2 387.89 L89.2 387.45 L90.2 387.45 L90.2 386.58 L91.2 386.58 L91.2 385.79 L92.2 385.79 L92.2 386.32 L93.2 386.32 L93.2 384.51 L94.2 384.51 L94.2 386.62 L95.2 386.62 L95.2 384.84 L96.2 384.84 L96.2 385.8 L97.2 385.8 L97.2 385.89 L98.2 385.89 L98.2 382.93 L99.2 382.93 L99.2 382.64 L100.2 382.64 L100.2 386.08 L101.2 386.08 L101.2 384.49 L102.2 384.49 L102.2 376.94 L103.2 376.94 L103.2 383.15 L104.2 383.15 L104.2 382.08 L105.2 382.08 L105.2 383.66 L106.2 383.66 L106.2 377.26 L107.2 377.26 L107.2 380.1 L108.2 380.1 L108.2 379.13 L109.2 379.13 L109.2 379.19 L110.2 379.19 L110.2 374.84 L111.2 374.84 L111.2 380.11 L112.2 380.11 L112.2 378.06 L113.2 378.06 L113.2 372.64 L114.2 372.64 L114.2 376.31 L115.2 376.31 L115.2 377.16 L116.2 377.16 L116.2 373.87 L117.2 373.87 L117.2 378.78 L118.2 378.78 L118.2 377.52 L119.2 377.52 L119.2 377.84 L120.2 377.84 L120.2 368.77 L121.2 368.77 L121.2 374.19 L122.2 374.19 L122.2 375.34 L123.2 375.34 L123.2 376.33 L124.2 376.33 L124.2 373.04 L125.2 373.04 L125.2 370.35 L126.2 370.35 L126.2 369.69 L127.2 369.69 L127.2 368.63 L128.2 368.63 L128.2 364.69 L129.2 364.69 L129.2 365.59 L130.2 365.59 L130.2 362.78 L131.2 362.78 L131.2 358.9 L132.2 358.9 L132.2 361.66 L133.2 361.66 L133.2 361.38 L134.2 361.38 L134.2 357.91 L135.2 357.91 L135.2 361.48 L136.2 361.48 L136.2 360.38 L137.2 360.38 L137.2 361.88 L138.2 361.88 L138.2 352.68 L139.2 352.68 L139.2 357.03 L140.2 357.03 L140.2 359.28 L141.2 359.28 L141.2 353.74 L142.2 353.74 L142.2 352.09 L143.2 352.09 L143.2 353.85 L144.2 353.85 L144.2 347.46 L145.2 347.46 L145.2 348.06 L146.2 348.06 L146.2 344.55 L147.2 344.55 L147.2 339.01 L148.2 339.01 L148.2 347.88 L149.2 347.88 L149.2 345.81 L150.2 345.81 L150.2 349.1 L151.2 349.1 L151.2 348.89 L152.2 348.89 L152.2 347.64 L153.2 347.64 L153.2 348.9 L154.2 348.9 L154.2 344.92 L155.2 344.92 L155.2 349.67 L156.2 349.67 L156.2 350.71 L157.2 350.71 L157.2 347.32 L158.2 347.32 L158.2 355.06 L159.2 355.06 L159.2 360.2 L160.2 360.2 L160.2 356.52 L161.2 356.52 L161.2 359.15 L162.2 359.15 L162.2 357.76 L163.2 357.76 L163.2 356.91 L164.2 356.91 L164.2 359.85 L165.2 359.85 L165.2 368.8 L166.2 368.8 L166.2 366.28 L167.2 366.28 L167.2 371.19 L168.2 371.19 L168.2 379.24 L169.2 379.24 L169.2 380.39 L170.2 380.39 L170.2 382.87 L171.2 382.87 L171.2 384.89 L172.2 384.89 L172.2 387.22 L173.2 387.22 L173.2 386.61 L174.2 386.61 L174.2 391.24 L175.2 391.24 L175.2 391.5 L176.2 391.5 L176.2 395.53 L177.2 395.53 L177.2 396.07 L178.2 396.07 L178.2 394.55 L179.2 394.55 L179.2 395.83 L180.2 395.83 L180.2 398.31 L181.2 398.31 L181.2 404.35 L182.2 404.35 L182.2 403.54 L183.2 403.54 L183.2 403.66 L184.2 403.66 L184.2 399.26 L185.2 399.26 L185.2 403.22 L186.2 403.22 L186.2 404.49 L187.2 404.49 L187.2 401.66 L188.2 401.66 L188.2 404.03 L189.2 404.03 L189.2 401.59 L190.2 401.59 L190.2 403.23 L191.2 403.23 L191.2 403.27 L192.2 403.27 L192.2 403.69 L193.2 403.69 L193.2 404.09 L194.2 404.09 L194.2 405.93 L195.2 405.93 L195.2 404.11 L196.2 404.11 L196.2 405.3 L197.2 405.3 L197.2 404.26 L198.2 404.26 L198.2 403.83 L199.2 403.83 L199.2 404.78 L200.2 404.78 L200.2 404.9 L201.2 404.9 L201.2 402.54 L202.2 402.54 L202.2 402.98 L203.2 402.98 L203.2 403.79 L204.2 403.79 L204.2 406.1 L205.2 406.1 L205.2 402.68 L206.2 402.68 L206.2 401.7 L207.2 401.7 L207.2 400.89 L208.2 400.89 L208.2 402.62 L209.2 402.62 L209.2 402.28 L210.2 402.28 L210.2 401.58 L211.2 401.58 L211.2 395.79 L212.2 395.79 L212.2 396.59 L213.2 396.59 L213.2 397.27 L214.2 397.27 L214.2 397.57 L215.2 397.57 L215.2 393.85 L216.2 393.85 L216.2 394.33 L217.2 394.33 L217.2 393.91 L218.2 393.91 L218.2 392.85 L219.2 392.85 L219.2 391.97 L220.2 391.97 L220.2 395.66 L221.2 395.66 L221.2 392.14 L222.2 392.14 L222.2 392.76 L223.2 392.76 L223.2 393.92 L224.2 393.92 L224.2 391.72 L225.2 391.72 L225.2 393.35 L226.2 393.35 L226.2 392.02 L227.2 392.02 L227.2 394.73 L228.2 394.73 L228.2 395.33 L229.2 395.33 L229.2 392.86 L230.2 392.86 L230.2 391.9 L231.2 391.9 L231.2 394.13 L232.2 394.13 L232.2 391.66 L233.2 391.66 L233.2 397.23 L234.2 397.23 L234.2 396.13 L235.2 396.13 L235.2 394.26 L236.2 394.26 L236.2 398.77 L237.2 398.77 L237.2 397.57 L238.2 397.57 L238.2 399.9 L239.2 399.9 L239.2 398.03 L240.2 398.03 L240.2 397.72 L241.2 397.72 L241.2 401.19 L242.2 401.19 L242.2 402.6 L243.2 402.6 L243.2 403.32 L244.2 403.32 L244.2 406.97 L245.2 406.97 L245.2 408.58 L246.2 408.58 L246.2 409.16 L247.2 409.16 L247.2 410.29 L248.2 410.29 L248.2 406.21 L249.2 406.21 L249.2 406.22 L250.2 406.22 L250.2 410.34 L251.2 410.34 L251.2 410.62 L252.2 410.62 L252.2 409 L253.2 409 L253.2 410.69 L254.2 410.69 L254.2 412.59 L255.2 412.59 L255.2 410.91 L256.2 410.91 L256.2 412.61 L257.2 412.61 L257.2 413.97 L258.2 413.97 L258.2 411.83 L259.2 411.83 L259.2 410.09 L260.2 410.09 L260.2 413.88 L261.2 413.88 L261.2 411.57 L262.2 411.57 L262.2 413.17 L263.2 413.17 L263.2 413.62 L264.2 413.62 L264.2 414.34 L265.2 414.34 L265.2 414.43 L266.2 414.43 L266.2 412.88 L267.2 412.88 L267.2 414.21 L268.2 414.21 L268.2 414.51 L269.2 414.51 L269.2 414.6 L270.2 414.6 L270.2 413.35 L271.2 413.35 L271.2 414.88 L272.2 414.88 L272.2 414.21 L273.2 414.21 L273.2 414.56 L274.2 414.56 L274.2 413.27 L275.2 413.27 L275.2 414.55 L276.2 414.55 L276.2 414.07 L277.2 414.07 L277.2 415.19 L278.2 415.19 L278.2 415.82 L279.2 415.82 L279.2 416.14 L280.2 416.14 L280.2 415.35 L281.2 415.35 L281.2 415.72 L282.2 415.72 L282.2 415.72 L283.2 415.72 L283.2 415.72 L284.2 415.72 L284.2 416.62 L285.2 416.62 L285.2 414.77 L286.2 414.77 L286.2 415.93 L287.2 415.93 L287.2 415.8 L288.2 415.8 L288.2 415.04 L289.2 415.04 L289.2 416.51 L290.2 416.51 L290.2 415.45 L291.2 415.45 L291.2 416.38 L292.2 416.38 L292.2 416.59 L293.2 416.59 L293.2 417.1 L294.2 417.1 L294.2 416.3 L295.2 416.3 L295.2 416.92 L296.2 416.92 L296.2 416.68 L297.2 416.68 L297.2 416.22 L298.2 416.22 L298.2 415.3 L299.2 415.3 L299.2 416.4 L300.2 416.4 L300.2 416.82 L301.2 416.82 L301.2 416.8 L302.2 416.8 L302.2 416.92 L303.2 416.92 L303.2 416.35 L304.2 416.35 L304.2 416.7 L305.2 416.7 L305.2 416.94 L306.2 416.94 L306.2 416.33 L307.2 416.33 L307.2 416.73 L308.2 416.73 L308.2 417.04 L309.2 417.04 L309.2 417.59 L310.2 417.59 L310.2 416.64 L311.2 416.64 L311.2 416.76 L312.2 416.76 L312.2 416.88 L313.2 416.88 L313.2 417.14 L314.2 417.14 L314.2 417.37 L315.2 417.37 L315.2 417.09 L316.2 417.09 L316.2 416.89 L317.2 416.89 L317.2 417.09 L318.2 417.09 L318.2 417.12 L319.2 417.12 L319.2 417.3 L320.2 417.3 L320.2 416.94 L321.2 416.94 L321.2 417.01 L322.2 417.01 L322.2 417.51 L323.2 417.51 L323.2 415.94 L324.2 415.94 L324.2 416.43 L325.2 416.43 L325.2 417.32 L326.2 417.32 L326.2 416.97 L327.2 416.97 L327.2 418.28 L328.2 418.28 L328.2 416.96 L329.2 416.96 L329.2 416.92 L330.2 416.92 L330.2 417.34 L331.2 417.34 L331.2 417.81 L332.2 417.81 L332.2 417.27 L333.2 417.27 L333.2 417.35 L334.2 417.35 L334.2 417.39 L335.2 417.39 L335.2 416.79 L336.2 416.79 L336.2 417.55 L337.2 417.55 L337.2 417.02 L338.2 417.02 L338.2 417.99 L339.2 417.99 L339.2 417.49 L340.2 417.49 L340.2 416.79 L341.2 416.79 L341.2 417.29 L342.2 417.29 L342.2 417.77 L343.2 417.77 L343.2 417.28 L344.2 417.28 L344.2 417.94 L345.2 417.94 L345.2 417.62 L346.2 417.62 L346.2 416.94 L347.2 416.94 L347.2 416.81 L348.2 416.81 L348.2 418.43 L349.2 418.43 L349.2 417.38 L350.2 417.38 L350.2 416.85 L351.2 416.85 L351.2 417.56 L352.2 417.56 L352.2 417.09 L353.2 417.09 L353.2 417.98 L354.2 417.98 L354.2 417.31 L355.2 417.31 L355.2 418.62 L356.2 418.62 L356.2 417.67 L357.2 417.67 L357.2 417.92 L358.2 417.92 L358.2 415.97 L359.2 415.97 L359.2 417.58 L360.2 417.58 L360.2 418.05 L361.2 418.05 L361.2 417.71 L362.2 417.71 L362.2 416.99 L363.2 416.99 L363.2 418.53 L364.2 418.53 L364.2 416.99 L365.2 416.99 L365.2 417.68 L366.2 417.68 L366.2 417.96 L367.2 417.96 L367.2 417.57 L368.2 417.57 L368.2 418.21 L369.2 418.21 L369.2 418.37 L370.2 418.37 L370.2 418.12 L371.2 418.12 L371.2 418.2 L372.2 418.2 L372.2 417 L373.2 417 L373.2 418.36 L374.2 418.36 L374.2 418.27 L375.2 418.27 L375.2 417.53 L376.2 417.53 L376.2 417.45 L377.2 417.45 L377.2 416.62 L378.2 416.62 L378.2 418.57 L379.2 418.57 L379.2 418.38 L380.2 418.38 L380.2 418.3 L381.2 418.3 L381.2 418.25 L382.2 418.25 L382.2 418.38 L383.2 418.38 L383.2 418.43 L384.2 418.43 L384.2 417.52 L385.2 417.52 L385.2 418.35 L386.2 418.35 L386.2 416.8 L387.2 416.8 L387.2 418.67 L388.2 418.67 L388.2 417.08 L389.2 417.08 L389.2 418.32 L390.2 418.32 L390.2 418.4 L391.2 418.4 L391.2 418.48 L392.2 418.48 L392.2 418.25 L393.2 418.25 L393.2 417.24 L394.2 417.24 L394.2 417.99 L395.2 417.99 L395.2 418.34 L396.2 418.34 L396.2 418.47 L397.2 418.47 L397.2 417.62 L398.2 417.62 L398.2 417.5 L399.2 417.5 L399.2 417.93 L400.2 417.93 L400.2 418.43 L401.2 418.43 L401.2 418.3 L402.2 418.3 L402.2 418.79 L403.2 418.79 L403.2 418.42 L404.2 418.42 L404.2 418.24 L405.2 418.24 L405.2 418.37 L406.2 418.37 L406.2 418 L407.2 418 L407.2 416.62 L408.2 416.62 L408.2 418.45 L409.2 418.45 L409.2 418.06 L410.2 418.06 L410.2 418.74 L411.2 418.74 L411.2 418.33 L412.2 418.33 L412.2 418.18 L413.2 418.18 L413.2 418.29 L414.2 418.29 L414.2 418.29 L415.2 418.29 L415.2 418.03 L416.2 418.03 L416.2 418.69 L417.2 418.69 L417.2 417.69 L418.2 417.69 L418.2 417.97 L419.2 417.97 L419.2 418.78 L420.2 418.78 L420.2 418.78 L421.2 418.78 L421.2 418.66 L422.2 418.66 L422.2 418.42 L423.2 418.42 L423.2 417.93 L424.2 417.93 L424.2 418.03 L425.2 418.03 L425.2 418.02 L426.2 418.02 L426.2 418.02 L427.2 418.02 L427.2 418.02 L428.2 418.02 L428.2 418.17 L429.2 418.17 L429.2 418.3 L430.2 418.3 L430.2 417.39 L431.2 417.39 L431.2 417.37 L432.2 417.37 L432.2 418.17 L433.2 418.17 L433.2 418.1 L434.2 418.1 L434.2 418.48 L435.2 418.48 L435.2 418.72 L436.2 418.72 L436.2 417.36 L437.2 417.36 L437.2 418.23 L438.2 418.23 L438.2 418.77 L439.2 418.77 L439.2 418.35 L440.2 418.35 L440.2 418.41 L441.2 418.41 L441.2 418.26 L442.2 418.26 L442.2 418.12 L443.2 418.12 L443.2 418.14 L444.2 418.14 L444.2 417.96 L445.2 417.96 L445.2 419.07 L446.2 419.07 L446.2 418.36 L447.2 418.36 L447.2 418.36 L448.2 418.36 L448.2 418.8 L449.2 418.8 L449.2 418.96 L450.2 418.96 L450.2 418.68 L451.2 418.68 L451.2 419.15 L452.2 419.15 L452.2 418.54 L453.2 418.54 L453.2 418.57 L454.2 418.57 L454.2 418.85 L455.2 418.85 L455.2 418.29 L456.2 418.29 L456.2 418.3 L457.2 418.3 L457.2 418.33 L458.2 418.33 L458.2 418.8 L459.2 418.8 L459.2 418.88 L460.2 418.88 L460.2 418.41 L461.2 418.41 L461.2 417.84 L462.2 417.84 L462.2 417.23 L463.2 417.23 L463.2 418.26 L464.2 418.26 L464.2 419.13 L465.2 419.13 L465.2 418.16 L466.2 418.16 L466.2 418.16 L467.2 418.16 L467.2 419.09 L468.2 419.09 L468.2 418.82 L469.2 418.82 L469.2 418.63 L470.2 418.63 L470.2 419.05 L471.2 419.05 L471.2 419.11 L472.2 419.11 L472.2 419.14 L473.2 419.14 L473.2 418.54 L474.2 418.54 L474.2 419.25 L475.2 419.25 L475.2 418.47 L476.2 418.47 L476.2 418.88 L477.2 418.88 L477.2 417.71 L477.2 419.68 Z" fill="#050505"/>
<line x1="32.5" y1="279" x2="482.75" y2="282.25" stroke="#000" stroke-width="1.3" stroke-linecap="square"/>
<line x1="482.75" y1="282.25" x2="480.25" y2="419.4" stroke="#000" stroke-width="1.35" stroke-linecap="square"/>
<line x1="32.5" y1="279" x2="31.9" y2="416.6" stroke="#000" stroke-width="1.7" stroke-linecap="square"/>
<line x1="31.9" y1="416.6" x2="480.25" y2="419.4" stroke="#000" stroke-width="1.7" stroke-linecap="square"/>
<line x1="26.3" y1="416.57" x2="31.9" y2="416.6" stroke="#000" stroke-width="1.25" stroke-linecap="butt"/>
<line x1="28.92" y1="411.08" x2="31.92" y2="411.1" stroke="#000" stroke-width="1.25" stroke-linecap="butt"/>
<line x1="28.95" y1="405.57" x2="31.95" y2="405.59" stroke="#000" stroke-width="1.25" stroke-linecap="butt"/>
<line x1="28.97" y1="400.07" x2="31.97" y2="400.09" stroke="#000" stroke-width="1.25" stroke-linecap="butt"/>
<line x1="29" y1="394.57" x2="32" y2="394.58" stroke="#000" stroke-width="1.25" stroke-linecap="butt"/>
<line x1="26.42" y1="389.05" x2="32.02" y2="389.08" stroke="#000" stroke-width="1.25" stroke-linecap="butt"/>
<line x1="29.04" y1="383.56" x2="32.04" y2="383.58" stroke="#000" stroke-width="1.25" stroke-linecap="butt"/>
<line x1="29.07" y1="378.05" x2="32.07" y2="378.07" stroke="#000" stroke-width="1.25" stroke-linecap="butt"/>
<line x1="29.09" y1="372.55" x2="32.09" y2="372.57" stroke="#000" stroke-width="1.25" stroke-linecap="butt"/>
<line x1="29.12" y1="367.05" x2="32.12" y2="367.06" stroke="#000" stroke-width="1.25" stroke-linecap="butt"/>
<line x1="26.54" y1="361.53" x2="32.14" y2="361.56" stroke="#000" stroke-width="1.25" stroke-linecap="butt"/>
<line x1="29.16" y1="356.04" x2="32.16" y2="356.06" stroke="#000" stroke-width="1.25" stroke-linecap="butt"/>
<line x1="29.19" y1="350.53" x2="32.19" y2="350.55" stroke="#000" stroke-width="1.25" stroke-linecap="butt"/>
<line x1="29.21" y1="345.03" x2="32.21" y2="345.05" stroke="#000" stroke-width="1.25" stroke-linecap="butt"/>
<line x1="29.24" y1="339.53" x2="32.24" y2="339.54" stroke="#000" stroke-width="1.25" stroke-linecap="butt"/>
<line x1="26.66" y1="334.01" x2="32.26" y2="334.04" stroke="#000" stroke-width="1.25" stroke-linecap="butt"/>
<line x1="29.28" y1="328.52" x2="32.28" y2="328.54" stroke="#000" stroke-width="1.25" stroke-linecap="butt"/>
<line x1="29.31" y1="323.01" x2="32.31" y2="323.03" stroke="#000" stroke-width="1.25" stroke-linecap="butt"/>
<line x1="29.33" y1="317.51" x2="32.33" y2="317.53" stroke="#000" stroke-width="1.25" stroke-linecap="butt"/>
<line x1="29.36" y1="312.01" x2="32.36" y2="312.02" stroke="#000" stroke-width="1.25" stroke-linecap="butt"/>
<line x1="26.78" y1="306.49" x2="32.38" y2="306.52" stroke="#000" stroke-width="1.25" stroke-linecap="butt"/>
<line x1="29.4" y1="301" x2="32.4" y2="301.02" stroke="#000" stroke-width="1.25" stroke-linecap="butt"/>
<line x1="29.43" y1="295.49" x2="32.43" y2="295.51" stroke="#000" stroke-width="1.25" stroke-linecap="butt"/>
<line x1="29.45" y1="289.99" x2="32.45" y2="290.01" stroke="#000" stroke-width="1.25" stroke-linecap="butt"/>
<line x1="29.48" y1="284.49" x2="32.48" y2="284.5" stroke="#000" stroke-width="1.25" stroke-linecap="butt"/>
<line x1="26.9" y1="278.97" x2="32.5" y2="279" stroke="#000" stroke-width="1.25" stroke-linecap="butt"/>
<text x="22.5" y="413.9" font-family='"Liberation Sans", Arial, Helvetica, sans-serif' font-size="10.5" font-weight="normal" text-anchor="middle" transform="rotate(-90 22.5 413.9)" stroke="#000" stroke-width="0.25">0</text>
<text x="22.62" y="386.38" font-family='"Liberation Sans", Arial, Helvetica, sans-serif' font-size="10.5" font-weight="normal" text-anchor="middle" transform="rotate(-90 22.62 386.38)" stroke="#000" stroke-width="0.25">50</text>
<text x="22.74" y="358.86" font-family='"Liberation Sans", Arial, Helvetica, sans-serif' font-size="10.5" font-weight="normal" text-anchor="middle" transform="rotate(-90 22.74 358.86)" stroke="#000" stroke-width="0.25">100</text>
<text x="22.86" y="331.34" font-family='"Liberation Sans", Arial, Helvetica, sans-serif' font-size="10.5" font-weight="normal" text-anchor="middle" transform="rotate(-90 22.86 331.34)" stroke="#000" stroke-width="0.25">150</text>
<text x="22.98" y="303.82" font-family='"Liberation Sans", Arial, Helvetica, sans-serif' font-size="10.5" font-weight="normal" text-anchor="middle" transform="rotate(-90 22.98 303.82)" stroke="#000" stroke-width="0.25">200</text>
<text x="23.1" y="276.3" font-family='"Liberation Sans", Arial, Helvetica, sans-serif' font-size="10.5" font-weight="normal" text-anchor="middle" transform="rotate(-90 23.1 276.3)" stroke="#000" stroke-width="0.25">250</text>
<text x="10.2" y="349" font-family='"Liberation Sans", Arial, Helvetica, sans-serif' font-size="10.7" font-weight="normal" text-anchor="middle" transform="rotate(-90 10.2 349)" stroke="#000" stroke-width="0.25">Counts</text>
<line x1="31.9" y1="416.6" x2="31.86" y2="422.4" stroke="#000" stroke-width="1.2" stroke-linecap="butt"/>
<text x="34.7" y="435.1" font-family='"Liberation Sans", Arial, Helvetica, sans-serif' font-size="10.7" font-weight="normal" text-anchor="end" stroke="#000" stroke-width="0.25">10</text>
<text x="35.1" y="429.5" font-family='"Liberation Sans", Arial, Helvetica, sans-serif' font-size="10.7" font-weight="normal" text-anchor="start" stroke="#000" stroke-width="0.25">0</text>
<line x1="65.64" y1="416.81" x2="65.62" y2="419.91" stroke="#000" stroke-width="1.1" stroke-linecap="butt"/>
<line x1="85.38" y1="416.93" x2="85.36" y2="420.03" stroke="#000" stroke-width="1.1" stroke-linecap="butt"/>
<line x1="99.38" y1="417.02" x2="99.36" y2="420.12" stroke="#000" stroke-width="1.1" stroke-linecap="butt"/>
<line x1="110.25" y1="417.09" x2="110.23" y2="420.19" stroke="#000" stroke-width="1.1" stroke-linecap="butt"/>
<line x1="119.12" y1="417.14" x2="119.1" y2="420.24" stroke="#000" stroke-width="1.1" stroke-linecap="butt"/>
<line x1="126.62" y1="417.19" x2="126.6" y2="420.29" stroke="#000" stroke-width="1.1" stroke-linecap="butt"/>
<line x1="133.13" y1="417.23" x2="133.11" y2="420.33" stroke="#000" stroke-width="1.1" stroke-linecap="butt"/>
<line x1="138.86" y1="417.27" x2="138.84" y2="420.37" stroke="#000" stroke-width="1.1" stroke-linecap="butt"/>
<line x1="143.99" y1="417.3" x2="143.95" y2="423.1" stroke="#000" stroke-width="1.2" stroke-linecap="butt"/>
<text x="146.79" y="435.8" font-family='"Liberation Sans", Arial, Helvetica, sans-serif' font-size="10.7" font-weight="normal" text-anchor="end" stroke="#000" stroke-width="0.25">10</text>
<text x="147.19" y="430.2" font-family='"Liberation Sans", Arial, Helvetica, sans-serif' font-size="10.7" font-weight="normal" text-anchor="start" stroke="#000" stroke-width="0.25">1</text>
<line x1="177.73" y1="417.51" x2="177.71" y2="420.61" stroke="#000" stroke-width="1.1" stroke-linecap="butt"/>
<line x1="197.47" y1="417.63" x2="197.45" y2="420.73" stroke="#000" stroke-width="1.1" stroke-linecap="butt"/>
<line x1="211.47" y1="417.72" x2="211.45" y2="420.82" stroke="#000" stroke-width="1.1" stroke-linecap="butt"/>
<line x1="222.33" y1="417.79" x2="222.31" y2="420.89" stroke="#000" stroke-width="1.1" stroke-linecap="butt"/>
<line x1="231.21" y1="417.84" x2="231.19" y2="420.94" stroke="#000" stroke-width="1.1" stroke-linecap="butt"/>
<line x1="238.71" y1="417.89" x2="238.69" y2="420.99" stroke="#000" stroke-width="1.1" stroke-linecap="butt"/>
<line x1="245.21" y1="417.93" x2="245.19" y2="421.03" stroke="#000" stroke-width="1.1" stroke-linecap="butt"/>
<line x1="250.95" y1="417.97" x2="250.93" y2="421.07" stroke="#000" stroke-width="1.1" stroke-linecap="butt"/>
<line x1="256.07" y1="418" x2="256.03" y2="423.8" stroke="#000" stroke-width="1.2" stroke-linecap="butt"/>
<text x="258.88" y="436.5" font-family='"Liberation Sans", Arial, Helvetica, sans-serif' font-size="10.7" font-weight="normal" text-anchor="end" stroke="#000" stroke-width="0.25">10</text>
<text x="259.27" y="430.9" font-family='"Liberation Sans", Arial, Helvetica, sans-serif' font-size="10.7" font-weight="normal" text-anchor="start" stroke="#000" stroke-width="0.25">2</text>
<line x1="289.82" y1="418.21" x2="289.8" y2="421.31" stroke="#000" stroke-width="1.1" stroke-linecap="butt"/>
<line x1="309.55" y1="418.33" x2="309.53" y2="421.43" stroke="#000" stroke-width="1.1" stroke-linecap="butt"/>
<line x1="323.56" y1="418.42" x2="323.54" y2="421.52" stroke="#000" stroke-width="1.1" stroke-linecap="butt"/>
<line x1="334.42" y1="418.49" x2="334.4" y2="421.59" stroke="#000" stroke-width="1.1" stroke-linecap="butt"/>
<line x1="343.3" y1="418.54" x2="343.28" y2="421.64" stroke="#000" stroke-width="1.1" stroke-linecap="butt"/>
<line x1="350.8" y1="418.59" x2="350.78" y2="421.69" stroke="#000" stroke-width="1.1" stroke-linecap="butt"/>
<line x1="357.3" y1="418.63" x2="357.28" y2="421.73" stroke="#000" stroke-width="1.1" stroke-linecap="butt"/>
<line x1="363.03" y1="418.67" x2="363.01" y2="421.77" stroke="#000" stroke-width="1.1" stroke-linecap="butt"/>
<line x1="368.16" y1="418.7" x2="368.12" y2="424.5" stroke="#000" stroke-width="1.2" stroke-linecap="butt"/>
<text x="370.96" y="437.2" font-family='"Liberation Sans", Arial, Helvetica, sans-serif' font-size="10.7" font-weight="normal" text-anchor="end" stroke="#000" stroke-width="0.25">10</text>
<text x="371.36" y="431.6" font-family='"Liberation Sans", Arial, Helvetica, sans-serif' font-size="10.7" font-weight="normal" text-anchor="start" stroke="#000" stroke-width="0.25">3</text>
<line x1="401.9" y1="418.91" x2="401.88" y2="422.01" stroke="#000" stroke-width="1.1" stroke-linecap="butt"/>
<line x1="421.64" y1="419.03" x2="421.62" y2="422.13" stroke="#000" stroke-width="1.1" stroke-linecap="butt"/>
<line x1="435.65" y1="419.12" x2="435.63" y2="422.22" stroke="#000" stroke-width="1.1" stroke-linecap="butt"/>
<line x1="446.51" y1="419.19" x2="446.49" y2="422.29" stroke="#000" stroke-width="1.1" stroke-linecap="butt"/>
<line x1="455.38" y1="419.24" x2="455.36" y2="422.34" stroke="#000" stroke-width="1.1" stroke-linecap="butt"/>
<line x1="462.89" y1="419.29" x2="462.87" y2="422.39" stroke="#000" stroke-width="1.1" stroke-linecap="butt"/>
<line x1="469.39" y1="419.33" x2="469.37" y2="422.43" stroke="#000" stroke-width="1.1" stroke-linecap="butt"/>
<line x1="475.12" y1="419.37" x2="475.1" y2="422.47" stroke="#000" stroke-width="1.1" stroke-linecap="butt"/>
<line x1="480.25" y1="419.4" x2="480.21" y2="425.2" stroke="#000" stroke-width="1.2" stroke-linecap="butt"/>
<text x="483.05" y="437.9" font-family='"Liberation Sans", Arial, Helvetica, sans-serif' font-size="10.7" font-weight="normal" text-anchor="end" stroke="#000" stroke-width="0.25">10</text>
<text x="483.45" y="432.3" font-family='"Liberation Sans", Arial, Helvetica, sans-serif' font-size="10.7" font-weight="normal" text-anchor="start" stroke="#000" stroke-width="0.25">4</text>
<line x1="188.2" y1="353" x2="481.41" y2="356" stroke="#000" stroke-width="1.3" stroke-linecap="butt"/>
<line x1="188.3" y1="343.2" x2="188.1" y2="362.8" stroke="#000" stroke-width="1.35" stroke-linecap="butt"/>
<text x="335.4" y="366.8" font-family='"Liberation Sans", Arial, Helvetica, sans-serif' font-size="10.3" font-weight="normal" text-anchor="start" letter-spacing="1.9" stroke="#000" stroke-width="0.25">M1</text>
<text font-family='"Liberation Sans", Arial, Helvetica, sans-serif' font-weight="bold" font-size="20" y="305.5"><tspan x="394.7">B.</tspan><tspan x="421.5">I</tspan><tspan x="429.8" font-size="13.4">g</tspan><tspan x="440.2">G</tspan><tspan x="458.8" dy="2.3" font-size="11">1</tspan></text>
<text x="402.2" y="325.2" font-family='"Liberation Sans", Arial, Helvetica, sans-serif' font-size="16.5" font-weight="normal" text-anchor="start">+ bFGF</text>
<text x="225.5" y="470.3" font-family='"Liberation Serif", "Times New Roman", serif' font-size="20.2" font-weight="bold" text-anchor="start" textLength="49" lengthAdjust="spacingAndGlyphs">FITC</text>
</g>
<g id="panelC">
<path d="M31.4 675.3 L31.4 670.73 L32.4 670.73 L32.4 671.64 L33.4 671.64 L33.4 670.12 L34.4 670.12 L34.4 672.81 L35.4 672.81 L35.4 672.84 L36.4 672.84 L36.4 673.08 L37.4 673.08 L37.4 673.86 L38.4 673.86 L38.4 672.9 L39.4 672.9 L39.4 669.96 L40.4 669.96 L40.4 672.84 L41.4 672.84 L41.4 670.03 L42.4 670.03 L42.4 669.63 L43.4 669.63 L43.4 670.54 L44.4 670.54 L44.4 670.33 L45.4 670.33 L45.4 668.35 L46.4 668.35 L46.4 668.53 L47.4 668.53 L47.4 667.65 L48.4 667.65 L48.4 666.61 L49.4 666.61 L49.4 667.22 L50.4 667.22 L50.4 664.78 L51.4 664.78 L51.4 661.15 L52.4 661.15 L52.4 663.73 L53.4 663.73 L53.4 663.26 L54.4 663.26 L54.4 661.88 L55.4 661.88 L55.4 663.02 L56.4 663.02 L56.4 662.71 L57.4 662.71 L57.4 664.15 L58.4 664.15 L58.4 662.87 L59.4 662.87 L59.4 664.95 L60.4 664.95 L60.4 661.88 L61.4 661.88 L61.4 665.87 L62.4 665.87 L62.4 666.01 L63.4 666.01 L63.4 668.04 L64.4 668.04 L64.4 668.16 L65.4 668.16 L65.4 667.79 L66.4 667.79 L66.4 665.85 L67.4 665.85 L67.4 668.05 L68.4 668.05 L68.4 668.35 L69.4 668.35 L69.4 664 L70.4 664 L70.4 666.06 L71.4 666.06 L71.4 665.7 L72.4 665.7 L72.4 667.31 L73.4 667.31 L73.4 665.93 L74.4 665.93 L74.4 666.12 L75.4 666.12 L75.4 666.47 L76.4 666.47 L76.4 665.51 L77.4 665.51 L77.4 665.19 L78.4 665.19 L78.4 664.07 L79.4 664.07 L79.4 663.53 L80.4 663.53 L80.4 665.36 L81.4 665.36 L81.4 664.5 L82.4 664.5 L82.4 660.23 L83.4 660.23 L83.4 662.71 L84.4 662.71 L84.4 663.69 L85.4 663.69 L85.4 661.81 L86.4 661.81 L86.4 663.57 L87.4 663.57 L87.4 663.8 L88.4 663.8 L88.4 659.42 L89.4 659.42 L89.4 656.7 L90.4 656.7 L90.4 661.66 L91.4 661.66 L91.4 663.57 L92.4 663.57 L92.4 662.47 L93.4 662.47 L93.4 662.23 L94.4 662.23 L94.4 662.51 L95.4 662.51 L95.4 661.41 L96.4 661.41 L96.4 660.65 L97.4 660.65 L97.4 659.76 L98.4 659.76 L98.4 656.93 L99.4 656.93 L99.4 660 L100.4 660 L100.4 658.18 L101.4 658.18 L101.4 656.5 L102.4 656.5 L102.4 656.21 L103.4 656.21 L103.4 654.28 L104.4 654.28 L104.4 655.68 L105.4 655.68 L105.4 654.82 L106.4 654.82 L106.4 654.04 L107.4 654.04 L107.4 655.98 L108.4 655.98 L108.4 655.44 L109.4 655.44 L109.4 652.8 L110.4 652.8 L110.4 652.19 L111.4 652.19 L111.4 651.71 L112.4 651.71 L112.4 656.15 L113.4 656.15 L113.4 642.66 L114.4 642.66 L114.4 651.21 L115.4 651.21 L115.4 651.5 L116.4 651.5 L116.4 649.35 L117.4 649.35 L117.4 648.66 L118.4 648.66 L118.4 650.15 L119.4 650.15 L119.4 647.6 L120.4 647.6 L120.4 647.5 L121.4 647.5 L121.4 647.45 L122.4 647.45 L122.4 647.62 L123.4 647.62 L123.4 648.42 L124.4 648.42 L124.4 646.99 L125.4 646.99 L125.4 646.47 L126.4 646.47 L126.4 648.24 L127.4 648.24 L127.4 648.16 L128.4 648.16 L128.4 651 L129.4 651 L129.4 646.31 L130.4 646.31 L130.4 649.38 L131.4 649.38 L131.4 647.12 L132.4 647.12 L132.4 648.22 L133.4 648.22 L133.4 645.08 L134.4 645.08 L134.4 645.5 L135.4 645.5 L135.4 645.02 L136.4 645.02 L136.4 638.78 L137.4 638.78 L137.4 644.09 L138.4 644.09 L138.4 645.71 L139.4 645.71 L139.4 642.73 L140.4 642.73 L140.4 641.27 L141.4 641.27 L141.4 640.71 L142.4 640.71 L142.4 643.03 L143.4 643.03 L143.4 642.04 L144.4 642.04 L144.4 639.24 L145.4 639.24 L145.4 640.85 L146.4 640.85 L146.4 638.77 L147.4 638.77 L147.4 641.38 L148.4 641.38 L148.4 632.33 L149.4 632.33 L149.4 634.19 L150.4 634.19 L150.4 639.07 L151.4 639.07 L151.4 638.23 L152.4 638.23 L152.4 637.72 L153.4 637.72 L153.4 638 L154.4 638 L154.4 637.88 L155.4 637.88 L155.4 636.92 L156.4 636.92 L156.4 634.68 L157.4 634.68 L157.4 639.85 L158.4 639.85 L158.4 638.41 L159.4 638.41 L159.4 638.2 L160.4 638.2 L160.4 636.3 L161.4 636.3 L161.4 637.53 L162.4 637.53 L162.4 633.25 L163.4 633.25 L163.4 633.49 L164.4 633.49 L164.4 633.57 L165.4 633.57 L165.4 633.78 L166.4 633.78 L166.4 629.63 L167.4 629.63 L167.4 631.07 L168.4 631.07 L168.4 632.36 L169.4 632.36 L169.4 629.32 L170.4 629.32 L170.4 632.15 L171.4 632.15 L171.4 626.62 L172.4 626.62 L172.4 629.36 L173.4 629.36 L173.4 629.33 L174.4 629.33 L174.4 617.33 L175.4 617.33 L175.4 622.49 L176.4 622.49 L176.4 627.81 L177.4 627.81 L177.4 620.62 L178.4 620.62 L178.4 622.28 L179.4 622.28 L179.4 621.15 L180.4 621.15 L180.4 618.49 L181.4 618.49 L181.4 613.1 L182.4 613.1 L182.4 613.41 L183.4 613.41 L183.4 617.4 L184.4 617.4 L184.4 608.78 L185.4 608.78 L185.4 608.94 L186.4 608.94 L186.4 611.08 L187.4 611.08 L187.4 604.75 L188.4 604.75 L188.4 607.41 L189.4 607.41 L189.4 602.77 L190.4 602.77 L190.4 600.49 L191.4 600.49 L191.4 600.23 L192.4 600.23 L192.4 595.12 L193.4 595.12 L193.4 596.38 L194.4 596.38 L194.4 586.17 L195.4 586.17 L195.4 589.6 L196.4 589.6 L196.4 579.44 L197.4 579.44 L197.4 586.9 L198.4 586.9 L198.4 575.92 L199.4 575.92 L199.4 580.02 L200.4 580.02 L200.4 577.43 L201.4 577.43 L201.4 575.14 L202.4 575.14 L202.4 572.68 L203.4 572.68 L203.4 571.66 L204.4 571.66 L204.4 566.4 L205.4 566.4 L205.4 562.08 L206.4 562.08 L206.4 563.97 L207.4 563.97 L207.4 560.15 L208.4 560.15 L208.4 557.77 L209.4 557.77 L209.4 543.62 L210.4 543.62 L210.4 556.65 L211.4 556.65 L211.4 553.34 L212.4 553.34 L212.4 548.21 L213.4 548.21 L213.4 552.43 L214.4 552.43 L214.4 550.41 L215.4 550.41 L215.4 549.38 L216.4 549.38 L216.4 552.61 L217.4 552.61 L217.4 555.89 L218.4 555.89 L218.4 551.75 L219.4 551.75 L219.4 554.02 L220.4 554.02 L220.4 553.46 L221.4 553.46 L221.4 555.37 L222.4 555.37 L222.4 556.65 L223.4 556.65 L223.4 559.57 L224.4 559.57 L224.4 557.44 L225.4 557.44 L225.4 560.59 L226.4 560.59 L226.4 571.72 L227.4 571.72 L227.4 570.66 L228.4 570.66 L228.4 577.62 L229.4 577.62 L229.4 584.53 L230.4 584.53 L230.4 573.8 L231.4 573.8 L231.4 585.69 L232.4 585.69 L232.4 591.03 L233.4 591.03 L233.4 593.88 L234.4 593.88 L234.4 598.44 L235.4 598.44 L235.4 602.89 L236.4 602.89 L236.4 601.65 L237.4 601.65 L237.4 605.13 L238.4 605.13 L238.4 602.81 L239.4 602.81 L239.4 614.62 L240.4 614.62 L240.4 621 L241.4 621 L241.4 624.39 L242.4 624.39 L242.4 627.12 L243.4 627.12 L243.4 629.14 L244.4 629.14 L244.4 635.97 L245.4 635.97 L245.4 634.35 L246.4 634.35 L246.4 638.62 L247.4 638.62 L247.4 639.01 L248.4 639.01 L248.4 642.24 L249.4 642.24 L249.4 643.79 L250.4 643.79 L250.4 649 L251.4 649 L251.4 650.95 L252.4 650.95 L252.4 655.15 L253.4 655.15 L253.4 652.61 L254.4 652.61 L254.4 659.64 L255.4 659.64 L255.4 659.9 L256.4 659.9 L256.4 659.71 L257.4 659.71 L257.4 661.75 L258.4 661.75 L258.4 657.39 L259.4 657.39 L259.4 664.05 L260.4 664.05 L260.4 664.56 L261.4 664.56 L261.4 664.71 L262.4 664.71 L262.4 667.59 L263.4 667.59 L263.4 666 L264.4 666 L264.4 664.5 L265.4 664.5 L265.4 667.25 L266.4 667.25 L266.4 668.51 L267.4 668.51 L267.4 668.8 L268.4 668.8 L268.4 671.02 L269.4 671.02 L269.4 671.09 L270.4 671.09 L270.4 671.14 L271.4 671.14 L271.4 670.87 L272.4 670.87 L272.4 670.14 L273.4 670.14 L273.4 672.44 L274.4 672.44 L274.4 671.59 L275.4 671.59 L275.4 672.55 L276.4 672.55 L276.4 670.32 L277.4 670.32 L277.4 671.83 L278.4 671.83 L278.4 670.9 L279.4 670.9 L279.4 671.38 L280.4 671.38 L280.4 673 L281.4 673 L281.4 673.79 L282.4 673.79 L282.4 671.25 L283.4 671.25 L283.4 673.01 L284.4 673.01 L284.4 672.27 L285.4 672.27 L285.4 672.84 L286.4 672.84 L286.4 673.47 L287.4 673.47 L287.4 673.34 L288.4 673.34 L288.4 673.11 L289.4 673.11 L289.4 673.26 L290.4 673.26 L290.4 672.91 L291.4 672.91 L291.4 673.69 L292.4 673.69 L292.4 673.76 L293.4 673.76 L293.4 673.24 L294.4 673.24 L294.4 673.49 L295.4 673.49 L295.4 673.09 L296.4 673.09 L296.4 673.99 L297.4 673.99 L297.4 673.97 L298.4 673.97 L298.4 674.69 L299.4 674.69 L299.4 673.16 L300.4 673.16 L300.4 674.96 L301.4 674.96 L301.4 674.07 L302.4 674.07 L302.4 674.77 L303.4 674.77 L303.4 674.1 L304.4 674.1 L304.4 673.92 L305.4 673.92 L305.4 675.36 L306.4 675.36 L306.4 674.59 L307.4 674.59 L307.4 673.77 L308.4 673.77 L308.4 674.83 L309.4 674.83 L309.4 675.52 L310.4 675.52 L310.4 675.08 L311.4 675.08 L311.4 672.24 L312.4 672.24 L312.4 672.99 L313.4 672.99 L313.4 673.07 L314.4 673.07 L314.4 675.31 L315.4 675.31 L315.4 675.14 L316.4 675.14 L316.4 675.53 L317.4 675.53 L317.4 675.69 L318.4 675.69 L318.4 674.46 L319.4 674.46 L319.4 674.82 L320.4 674.82 L320.4 674.97 L321.4 674.97 L321.4 674.95 L322.4 674.95 L322.4 674.77 L323.4 674.77 L323.4 674.57 L324.4 674.57 L324.4 674.8 L325.4 674.8 L325.4 675.97 L326.4 675.97 L326.4 674.95 L327.4 674.95 L327.4 675.81 L328.4 675.81 L328.4 676.34 L329.4 676.34 L329.4 675.78 L330.4 675.78 L330.4 674.73 L331.4 674.73 L331.4 675.22 L332.4 675.22 L332.4 676.1 L333.4 676.1 L333.4 676.16 L334.4 676.16 L334.4 674.76 L335.4 674.76 L335.4 675.88 L336.4 675.88 L336.4 675.63 L337.4 675.63 L337.4 675.86 L338.4 675.86 L338.4 676.68 L339.4 676.68 L339.4 676.5 L340.4 676.5 L340.4 675.35 L341.4 675.35 L341.4 675.66 L342.4 675.66 L342.4 675.72 L343.4 675.72 L343.4 676.19 L344.4 676.19 L344.4 676.53 L345.4 676.53 L345.4 676 L346.4 676 L346.4 676.53 L347.4 676.53 L347.4 676.23 L348.4 676.23 L348.4 675.38 L349.4 675.38 L349.4 676.31 L350.4 676.31 L350.4 676.37 L351.4 676.37 L351.4 676.81 L352.4 676.81 L352.4 675.68 L353.4 675.68 L353.4 676.63 L354.4 676.63 L354.4 675.78 L355.4 675.78 L355.4 677.24 L356.4 677.24 L356.4 675.99 L357.4 675.99 L357.4 676.06 L358.4 676.06 L358.4 676.09 L359.4 676.09 L359.4 676.25 L360.4 676.25 L360.4 676.97 L361.4 676.97 L361.4 676.38 L362.4 676.38 L362.4 676.86 L363.4 676.86 L363.4 675.51 L364.4 675.51 L364.4 676.71 L365.4 676.71 L365.4 676.22 L366.4 676.22 L366.4 677.19 L367.4 677.19 L367.4 676.49 L368.4 676.49 L368.4 676.26 L369.4 676.26 L369.4 676.34 L370.4 676.34 L370.4 676.47 L371.4 676.47 L371.4 677.36 L372.4 677.36 L372.4 675.38 L373.4 675.38 L373.4 675.97 L374.4 675.97 L374.4 675.88 L375.4 675.88 L375.4 676.34 L376.4 676.34 L376.4 676.29 L377.4 676.29 L377.4 677.25 L378.4 677.25 L378.4 675.67 L379.4 675.67 L379.4 676.67 L380.4 676.67 L380.4 676.36 L381.4 676.36 L381.4 677.14 L382.4 677.14 L382.4 676.83 L383.4 676.83 L383.4 677.3 L384.4 677.3 L384.4 676.92 L385.4 676.92 L385.4 676.83 L386.4 676.83 L386.4 676.74 L387.4 676.74 L387.4 676.29 L388.4 676.29 L388.4 676.67 L389.4 676.67 L389.4 676.78 L390.4 676.78 L390.4 676.88 L391.4 676.88 L391.4 676.09 L392.4 676.09 L392.4 676.3 L393.4 676.3 L393.4 677.52 L394.4 677.52 L394.4 677.29 L395.4 677.29 L395.4 676.79 L396.4 676.79 L396.4 675.24 L397.4 675.24 L397.4 674.93 L398.4 674.93 L398.4 677.41 L399.4 677.41 L399.4 677.05 L400.4 677.05 L400.4 676.31 L401.4 676.31 L401.4 676.57 L402.4 676.57 L402.4 676.9 L403.4 676.9 L403.4 677.59 L404.4 677.59 L404.4 675.81 L405.4 675.81 L405.4 677.25 L406.4 677.25 L406.4 676.77 L407.4 676.77 L407.4 677.6 L408.4 677.6 L408.4 677.06 L409.4 677.06 L409.4 676.47 L410.4 676.47 L410.4 677.06 L411.4 677.06 L411.4 677.25 L412.4 677.25 L412.4 676.91 L413.4 676.91 L413.4 676.95 L414.4 676.95 L414.4 677.14 L415.4 677.14 L415.4 677.39 L416.4 677.39 L416.4 677.11 L417.4 677.11 L417.4 677.42 L418.4 677.42 L418.4 676.7 L419.4 676.7 L419.4 676.88 L420.4 676.88 L420.4 676.82 L421.4 676.82 L421.4 676.46 L422.4 676.46 L422.4 676.64 L423.4 676.64 L423.4 676.71 L424.4 676.71 L424.4 677.12 L425.4 677.12 L425.4 676.05 L426.4 676.05 L426.4 677.54 L427.4 677.54 L427.4 677.53 L428.4 677.53 L428.4 677.63 L429.4 677.63 L429.4 677.22 L430.4 677.22 L430.4 677.15 L431.4 677.15 L431.4 676.92 L432.4 676.92 L432.4 677.41 L433.4 677.41 L433.4 677.8 L434.4 677.8 L434.4 677.22 L435.4 677.22 L435.4 676.97 L436.4 676.97 L436.4 677.09 L437.4 677.09 L437.4 677.15 L438.4 677.15 L438.4 676.82 L439.4 676.82 L439.4 677.4 L440.4 677.4 L440.4 677.84 L441.4 677.84 L441.4 677.34 L442.4 677.34 L442.4 677.86 L443.4 677.86 L443.4 676.56 L444.4 676.56 L444.4 677.22 L445.4 677.22 L445.4 677.35 L446.4 677.35 L446.4 677.55 L447.4 677.55 L447.4 676.81 L448.4 676.81 L448.4 677.66 L449.4 677.66 L449.4 677.71 L450.4 677.71 L450.4 677.35 L451.4 677.35 L451.4 677.15 L452.4 677.15 L452.4 677.48 L453.4 677.48 L453.4 677.86 L454.4 677.86 L454.4 676.75 L455.4 676.75 L455.4 676.7 L456.4 676.7 L456.4 677.59 L457.4 677.59 L457.4 677.43 L458.4 677.43 L458.4 677.74 L459.4 677.74 L459.4 677.87 L460.4 677.87 L460.4 677.21 L461.4 677.21 L461.4 677.94 L462.4 677.94 L462.4 677.83 L463.4 677.83 L463.4 678 L464.4 678 L464.4 677.1 L465.4 677.1 L465.4 677.42 L466.4 677.42 L466.4 677.96 L467.4 677.96 L467.4 677.63 L468.4 677.63 L468.4 677.9 L469.4 677.9 L469.4 678.05 L470.4 678.05 L470.4 677.68 L471.4 677.68 L471.4 677.53 L472.4 677.53 L472.4 678.07 L473.4 678.07 L473.4 677.47 L474.4 677.47 L474.4 677.89 L475.4 677.89 L475.4 678.09 L475.4 678.39 Z" fill="#050505"/>
<path d="M461.5 678 L464.5 676.4 L466.8 672.4 L468.4 675.6 L470.6 678 Z" fill="#000"/>
<line x1="31.9" y1="538.1" x2="479.4" y2="541.25" stroke="#000" stroke-width="1.3" stroke-linecap="square"/>
<line x1="479.4" y1="541.25" x2="477.25" y2="678.1" stroke="#000" stroke-width="1.35" stroke-linecap="square"/>
<line x1="31.9" y1="538.1" x2="31" y2="675" stroke="#000" stroke-width="1.7" stroke-linecap="square"/>
<line x1="31" y1="675" x2="477.25" y2="678.1" stroke="#000" stroke-width="1.7" stroke-linecap="square"/>
<line x1="25.4" y1="674.97" x2="31" y2="675" stroke="#000" stroke-width="1.25" stroke-linecap="butt"/>
<line x1="28.04" y1="669.51" x2="31.04" y2="669.52" stroke="#000" stroke-width="1.25" stroke-linecap="butt"/>
<line x1="28.07" y1="664.03" x2="31.07" y2="664.05" stroke="#000" stroke-width="1.25" stroke-linecap="butt"/>
<line x1="28.11" y1="658.55" x2="31.11" y2="658.57" stroke="#000" stroke-width="1.25" stroke-linecap="butt"/>
<line x1="28.14" y1="653.08" x2="31.14" y2="653.1" stroke="#000" stroke-width="1.25" stroke-linecap="butt"/>
<line x1="25.58" y1="647.59" x2="31.18" y2="647.62" stroke="#000" stroke-width="1.25" stroke-linecap="butt"/>
<line x1="28.22" y1="642.13" x2="31.22" y2="642.14" stroke="#000" stroke-width="1.25" stroke-linecap="butt"/>
<line x1="28.25" y1="636.65" x2="31.25" y2="636.67" stroke="#000" stroke-width="1.25" stroke-linecap="butt"/>
<line x1="28.29" y1="631.17" x2="31.29" y2="631.19" stroke="#000" stroke-width="1.25" stroke-linecap="butt"/>
<line x1="28.32" y1="625.7" x2="31.32" y2="625.72" stroke="#000" stroke-width="1.25" stroke-linecap="butt"/>
<line x1="25.76" y1="620.21" x2="31.36" y2="620.24" stroke="#000" stroke-width="1.25" stroke-linecap="butt"/>
<line x1="28.4" y1="614.75" x2="31.4" y2="614.76" stroke="#000" stroke-width="1.25" stroke-linecap="butt"/>
<line x1="28.43" y1="609.27" x2="31.43" y2="609.29" stroke="#000" stroke-width="1.25" stroke-linecap="butt"/>
<line x1="28.47" y1="603.79" x2="31.47" y2="603.81" stroke="#000" stroke-width="1.25" stroke-linecap="butt"/>
<line x1="28.5" y1="598.32" x2="31.5" y2="598.34" stroke="#000" stroke-width="1.25" stroke-linecap="butt"/>
<line x1="25.94" y1="592.83" x2="31.54" y2="592.86" stroke="#000" stroke-width="1.25" stroke-linecap="butt"/>
<line x1="28.58" y1="587.37" x2="31.58" y2="587.38" stroke="#000" stroke-width="1.25" stroke-linecap="butt"/>
<line x1="28.61" y1="581.89" x2="31.61" y2="581.91" stroke="#000" stroke-width="1.25" stroke-linecap="butt"/>
<line x1="28.65" y1="576.41" x2="31.65" y2="576.43" stroke="#000" stroke-width="1.25" stroke-linecap="butt"/>
<line x1="28.68" y1="570.94" x2="31.68" y2="570.96" stroke="#000" stroke-width="1.25" stroke-linecap="butt"/>
<line x1="26.12" y1="565.45" x2="31.72" y2="565.48" stroke="#000" stroke-width="1.25" stroke-linecap="butt"/>
<line x1="28.76" y1="559.99" x2="31.76" y2="560" stroke="#000" stroke-width="1.25" stroke-linecap="butt"/>
<line x1="28.79" y1="554.51" x2="31.79" y2="554.53" stroke="#000" stroke-width="1.25" stroke-linecap="butt"/>
<line x1="28.83" y1="549.03" x2="31.83" y2="549.05" stroke="#000" stroke-width="1.25" stroke-linecap="butt"/>
<line x1="28.86" y1="543.56" x2="31.86" y2="543.58" stroke="#000" stroke-width="1.25" stroke-linecap="butt"/>
<line x1="26.3" y1="538.07" x2="31.9" y2="538.1" stroke="#000" stroke-width="1.25" stroke-linecap="butt"/>
<text x="21.6" y="672.3" font-family='"Liberation Sans", Arial, Helvetica, sans-serif' font-size="10.5" font-weight="normal" text-anchor="middle" transform="rotate(-90 21.6 672.3)" stroke="#000" stroke-width="0.25">0</text>
<text x="21.78" y="644.92" font-family='"Liberation Sans", Arial, Helvetica, sans-serif' font-size="10.5" font-weight="normal" text-anchor="middle" transform="rotate(-90 21.78 644.92)" stroke="#000" stroke-width="0.25">50</text>
<text x="21.96" y="617.54" font-family='"Liberation Sans", Arial, Helvetica, sans-serif' font-size="10.5" font-weight="normal" text-anchor="middle" transform="rotate(-90 21.96 617.54)" stroke="#000" stroke-width="0.25">100</text>
<text x="22.14" y="590.16" font-family='"Liberation Sans", Arial, Helvetica, sans-serif' font-size="10.5" font-weight="normal" text-anchor="middle" transform="rotate(-90 22.14 590.16)" stroke="#000" stroke-width="0.25">150</text>
<text x="22.32" y="562.78" font-family='"Liberation Sans", Arial, Helvetica, sans-serif' font-size="10.5" font-weight="normal" text-anchor="middle" transform="rotate(-90 22.32 562.78)" stroke="#000" stroke-width="0.25">200</text>
<text x="22.5" y="535.4" font-family='"Liberation Sans", Arial, Helvetica, sans-serif' font-size="10.5" font-weight="normal" text-anchor="middle" transform="rotate(-90 22.5 535.4)" stroke="#000" stroke-width="0.25">250</text>
<text x="9.8" y="607.75" font-family='"Liberation Sans", Arial, Helvetica, sans-serif' font-size="10.7" font-weight="normal" text-anchor="middle" transform="rotate(-90 9.8 607.75)" stroke="#000" stroke-width="0.25">Counts</text>
<line x1="31" y1="675" x2="30.96" y2="680.8" stroke="#000" stroke-width="1.2" stroke-linecap="butt"/>
<text x="33.8" y="693.5" font-family='"Liberation Sans", Arial, Helvetica, sans-serif' font-size="10.7" font-weight="normal" text-anchor="end" stroke="#000" stroke-width="0.25">10</text>
<text x="34.2" y="687.9" font-family='"Liberation Sans", Arial, Helvetica, sans-serif' font-size="10.7" font-weight="normal" text-anchor="start" stroke="#000" stroke-width="0.25">0</text>
<line x1="64.58" y1="675.23" x2="64.56" y2="678.33" stroke="#000" stroke-width="1.1" stroke-linecap="butt"/>
<line x1="84.23" y1="675.37" x2="84.21" y2="678.47" stroke="#000" stroke-width="1.1" stroke-linecap="butt"/>
<line x1="98.17" y1="675.47" x2="98.15" y2="678.57" stroke="#000" stroke-width="1.1" stroke-linecap="butt"/>
<line x1="108.98" y1="675.54" x2="108.96" y2="678.64" stroke="#000" stroke-width="1.1" stroke-linecap="butt"/>
<line x1="117.81" y1="675.6" x2="117.79" y2="678.7" stroke="#000" stroke-width="1.1" stroke-linecap="butt"/>
<line x1="125.28" y1="675.65" x2="125.26" y2="678.75" stroke="#000" stroke-width="1.1" stroke-linecap="butt"/>
<line x1="131.75" y1="675.7" x2="131.73" y2="678.8" stroke="#000" stroke-width="1.1" stroke-linecap="butt"/>
<line x1="137.46" y1="675.74" x2="137.44" y2="678.84" stroke="#000" stroke-width="1.1" stroke-linecap="butt"/>
<line x1="142.56" y1="675.77" x2="142.52" y2="681.57" stroke="#000" stroke-width="1.2" stroke-linecap="butt"/>
<text x="145.36" y="694.27" font-family='"Liberation Sans", Arial, Helvetica, sans-serif' font-size="10.7" font-weight="normal" text-anchor="end" stroke="#000" stroke-width="0.25">10</text>
<text x="145.76" y="688.67" font-family='"Liberation Sans", Arial, Helvetica, sans-serif' font-size="10.7" font-weight="normal" text-anchor="start" stroke="#000" stroke-width="0.25">1</text>
<line x1="176.15" y1="676.01" x2="176.13" y2="679.11" stroke="#000" stroke-width="1.1" stroke-linecap="butt"/>
<line x1="195.79" y1="676.14" x2="195.77" y2="679.24" stroke="#000" stroke-width="1.1" stroke-linecap="butt"/>
<line x1="209.73" y1="676.24" x2="209.71" y2="679.34" stroke="#000" stroke-width="1.1" stroke-linecap="butt"/>
<line x1="220.54" y1="676.32" x2="220.52" y2="679.42" stroke="#000" stroke-width="1.1" stroke-linecap="butt"/>
<line x1="229.37" y1="676.38" x2="229.35" y2="679.48" stroke="#000" stroke-width="1.1" stroke-linecap="butt"/>
<line x1="236.84" y1="676.43" x2="236.82" y2="679.53" stroke="#000" stroke-width="1.1" stroke-linecap="butt"/>
<line x1="243.31" y1="676.47" x2="243.29" y2="679.57" stroke="#000" stroke-width="1.1" stroke-linecap="butt"/>
<line x1="249.02" y1="676.51" x2="249" y2="679.61" stroke="#000" stroke-width="1.1" stroke-linecap="butt"/>
<line x1="254.12" y1="676.55" x2="254.09" y2="682.35" stroke="#000" stroke-width="1.2" stroke-linecap="butt"/>
<text x="256.93" y="695.05" font-family='"Liberation Sans", Arial, Helvetica, sans-serif' font-size="10.7" font-weight="normal" text-anchor="end" stroke="#000" stroke-width="0.25">10</text>
<text x="257.32" y="689.45" font-family='"Liberation Sans", Arial, Helvetica, sans-serif' font-size="10.7" font-weight="normal" text-anchor="start" stroke="#000" stroke-width="0.25">2</text>
<line x1="287.71" y1="676.78" x2="287.69" y2="679.88" stroke="#000" stroke-width="1.1" stroke-linecap="butt"/>
<line x1="307.35" y1="676.92" x2="307.33" y2="680.02" stroke="#000" stroke-width="1.1" stroke-linecap="butt"/>
<line x1="321.29" y1="677.02" x2="321.27" y2="680.12" stroke="#000" stroke-width="1.1" stroke-linecap="butt"/>
<line x1="332.1" y1="677.09" x2="332.08" y2="680.19" stroke="#000" stroke-width="1.1" stroke-linecap="butt"/>
<line x1="340.94" y1="677.15" x2="340.92" y2="680.25" stroke="#000" stroke-width="1.1" stroke-linecap="butt"/>
<line x1="348.41" y1="677.2" x2="348.39" y2="680.3" stroke="#000" stroke-width="1.1" stroke-linecap="butt"/>
<line x1="354.88" y1="677.25" x2="354.86" y2="680.35" stroke="#000" stroke-width="1.1" stroke-linecap="butt"/>
<line x1="360.58" y1="677.29" x2="360.56" y2="680.39" stroke="#000" stroke-width="1.1" stroke-linecap="butt"/>
<line x1="365.69" y1="677.33" x2="365.65" y2="683.12" stroke="#000" stroke-width="1.2" stroke-linecap="butt"/>
<text x="368.49" y="695.83" font-family='"Liberation Sans", Arial, Helvetica, sans-serif' font-size="10.7" font-weight="normal" text-anchor="end" stroke="#000" stroke-width="0.25">10</text>
<text x="368.89" y="690.23" font-family='"Liberation Sans", Arial, Helvetica, sans-serif' font-size="10.7" font-weight="normal" text-anchor="start" stroke="#000" stroke-width="0.25">3</text>
<line x1="399.27" y1="677.56" x2="399.25" y2="680.66" stroke="#000" stroke-width="1.1" stroke-linecap="butt"/>
<line x1="418.92" y1="677.69" x2="418.9" y2="680.79" stroke="#000" stroke-width="1.1" stroke-linecap="butt"/>
<line x1="432.85" y1="677.79" x2="432.83" y2="680.89" stroke="#000" stroke-width="1.1" stroke-linecap="butt"/>
<line x1="443.67" y1="677.87" x2="443.65" y2="680.97" stroke="#000" stroke-width="1.1" stroke-linecap="butt"/>
<line x1="452.5" y1="677.93" x2="452.48" y2="681.03" stroke="#000" stroke-width="1.1" stroke-linecap="butt"/>
<line x1="459.97" y1="677.98" x2="459.95" y2="681.08" stroke="#000" stroke-width="1.1" stroke-linecap="butt"/>
<line x1="466.44" y1="678.02" x2="466.42" y2="681.12" stroke="#000" stroke-width="1.1" stroke-linecap="butt"/>
<line x1="472.15" y1="678.06" x2="472.13" y2="681.16" stroke="#000" stroke-width="1.1" stroke-linecap="butt"/>
<line x1="477.25" y1="678.1" x2="477.21" y2="683.9" stroke="#000" stroke-width="1.2" stroke-linecap="butt"/>
<text x="480.05" y="696.6" font-family='"Liberation Sans", Arial, Helvetica, sans-serif' font-size="10.7" font-weight="normal" text-anchor="end" stroke="#000" stroke-width="0.25">10</text>
<text x="480.45" y="691" font-family='"Liberation Sans", Arial, Helvetica, sans-serif' font-size="10.7" font-weight="normal" text-anchor="start" stroke="#000" stroke-width="0.25">4</text>
<line x1="184" y1="612" x2="241" y2="612.4" stroke="#777" stroke-width="0.9" stroke-linecap="butt"/>
<line x1="240" y1="612.4" x2="478.26" y2="614" stroke="#000" stroke-width="1.3" stroke-linecap="butt"/>
<line x1="184" y1="603" x2="184" y2="612" stroke="#fff" stroke-width="0.8" stroke-linecap="butt"/>
<text x="333.3" y="624.9" font-family='"Liberation Sans", Arial, Helvetica, sans-serif' font-size="10.3" font-weight="normal" text-anchor="start" letter-spacing="1.9" stroke="#000" stroke-width="0.25">M1</text>
<text font-family='"Liberation Sans", Arial, Helvetica, sans-serif' font-weight="bold" font-size="19.8" y="563.6"><tspan x="338.3">C.</tspan><tspan x="365.2" textLength="99.2" lengthAdjust="spacingAndGlyphs">E-selectin</tspan></text>
<text x="401.8" y="581.7" font-family='"Liberation Sans", Arial, Helvetica, sans-serif' font-size="16.5" font-weight="normal" text-anchor="start">+ bFGF</text>
<text x="223.8" y="734.8" font-family='"Liberation Serif", "Times New Roman", serif' font-size="20.4" font-weight="bold" text-anchor="start" textLength="50.4" lengthAdjust="spacingAndGlyphs">FITC</text>
</g>
<g id="panelD">
<path d="M42.66 949.12 L42.66 947.38 L44.39 944.5 L46.13 941.69 L47.86 938.92 L49.6 936.53 L51.33 934.18 L53.07 930.74 L54.8 926.21 L56.54 930.76 L58.27 935.32 L60.01 930.79 L61.74 930.8 L63.48 935.35 L65.21 935.36 L66.95 930.84 L68.68 935.39 L70.42 930.86 L72.15 935.41 L73.89 930.89 L75.62 930.9 L77.36 926.37 L79.09 930.92 L80.83 935.48 L82.56 930.95 L84.3 935.5 L86.03 930.97 L87.77 926.45 L89.5 926.46 L91.24 921.93 L92.97 921.94 L94.71 921.95 L96.44 921.97 L98.18 926.52 L99.91 926.53 L101.65 922 L103.38 922.02 L105.12 917.49 L106.85 922.04 L108.59 917.51 L110.32 922.07 L112.06 922.08 L113.79 926.63 L115.53 922.1 L117.26 913.04 L119 908.51 L120.73 913.06 L122.47 913.07 L124.2 908.54 L125.94 899.48 L127.67 908.57 L129.41 904.04 L131.14 894.97 L132.88 885.91 L134.62 890.46 L136.35 895.01 L138.09 890.48 L139.82 885.96 L141.56 885.97 L143.29 885.98 L145.03 881.45 L146.76 886.01 L148.5 881.48 L150.23 890.57 L151.97 886.04 L153.7 886.05 L155.44 890.61 L157.17 895.16 L158.91 895.17 L160.64 890.64 L162.38 890.66 L164.11 890.67 L165.85 895.22 L167.58 904.31 L169.32 908.87 L171.05 913.42 L172.79 917.97 L174.52 913.44 L176.26 913.46 L177.99 913.47 L179.73 913.48 L181.46 918.03 L183.2 913.5 L184.93 918.06 L186.67 922.61 L188.4 931.7 L190.14 927.17 L191.87 927.19 L193.61 922.66 L195.34 913.59 L197.08 904.52 L198.81 900 L200.55 909.09 L202.28 913.64 L204.02 909.11 L205.75 909.13 L207.49 904.6 L209.22 909.15 L210.96 913.7 L212.69 913.71 L214.43 909.19 L216.16 913.74 L217.9 918.29 L219.63 913.76 L221.37 922.86 L223.1 918.33 L224.84 918.34 L226.57 927.43 L228.31 927.45 L230.04 932 L231.78 927.47 L233.51 932.02 L235.25 932.04 L236.98 936.59 L238.72 936.6 L240.45 936.61 L242.19 941.16 L243.92 945.72 L245.66 945.73 L247.39 941.2 L249.13 945.75 L250.86 945.77 L252.6 945.78 L252.6 950.62 Z" fill="#050505"/>
<path d="M257.5 950.2 L259.4 945.2 L261.2 950.3 Z" fill="#000"/>
<line x1="33.5" y1="812.25" x2="476.9" y2="815.6" stroke="#000" stroke-width="1.3" stroke-linecap="square"/>
<line x1="476.9" y1="815.6" x2="474.75" y2="951.9" stroke="#000" stroke-width="1.35" stroke-linecap="square"/>
<line x1="33.5" y1="812.25" x2="32.25" y2="948.75" stroke="#000" stroke-width="1.7" stroke-linecap="square"/>
<line x1="32.25" y1="948.75" x2="474.75" y2="951.9" stroke="#000" stroke-width="1.7" stroke-linecap="square"/>
<line x1="26.65" y1="948.72" x2="32.25" y2="948.75" stroke="#000" stroke-width="1.25" stroke-linecap="butt"/>
<line x1="29.29" y1="944.18" x2="32.29" y2="944.2" stroke="#000" stroke-width="1.25" stroke-linecap="butt"/>
<line x1="29.33" y1="939.63" x2="32.33" y2="939.65" stroke="#000" stroke-width="1.25" stroke-linecap="butt"/>
<line x1="29.38" y1="935.08" x2="32.38" y2="935.1" stroke="#000" stroke-width="1.25" stroke-linecap="butt"/>
<line x1="29.42" y1="930.53" x2="32.42" y2="930.55" stroke="#000" stroke-width="1.25" stroke-linecap="butt"/>
<line x1="26.86" y1="925.97" x2="32.46" y2="926" stroke="#000" stroke-width="1.25" stroke-linecap="butt"/>
<line x1="29.5" y1="921.43" x2="32.5" y2="921.45" stroke="#000" stroke-width="1.25" stroke-linecap="butt"/>
<line x1="29.54" y1="916.88" x2="32.54" y2="916.9" stroke="#000" stroke-width="1.25" stroke-linecap="butt"/>
<line x1="29.58" y1="912.33" x2="32.58" y2="912.35" stroke="#000" stroke-width="1.25" stroke-linecap="butt"/>
<line x1="29.62" y1="907.78" x2="32.62" y2="907.8" stroke="#000" stroke-width="1.25" stroke-linecap="butt"/>
<line x1="27.07" y1="903.22" x2="32.67" y2="903.25" stroke="#000" stroke-width="1.25" stroke-linecap="butt"/>
<line x1="29.71" y1="898.68" x2="32.71" y2="898.7" stroke="#000" stroke-width="1.25" stroke-linecap="butt"/>
<line x1="29.75" y1="894.13" x2="32.75" y2="894.15" stroke="#000" stroke-width="1.25" stroke-linecap="butt"/>
<line x1="29.79" y1="889.58" x2="32.79" y2="889.6" stroke="#000" stroke-width="1.25" stroke-linecap="butt"/>
<line x1="29.83" y1="885.03" x2="32.83" y2="885.05" stroke="#000" stroke-width="1.25" stroke-linecap="butt"/>
<line x1="27.27" y1="880.47" x2="32.88" y2="880.5" stroke="#000" stroke-width="1.25" stroke-linecap="butt"/>
<line x1="29.92" y1="875.93" x2="32.92" y2="875.95" stroke="#000" stroke-width="1.25" stroke-linecap="butt"/>
<line x1="29.96" y1="871.38" x2="32.96" y2="871.4" stroke="#000" stroke-width="1.25" stroke-linecap="butt"/>
<line x1="30" y1="866.83" x2="33" y2="866.85" stroke="#000" stroke-width="1.25" stroke-linecap="butt"/>
<line x1="30.04" y1="862.28" x2="33.04" y2="862.3" stroke="#000" stroke-width="1.25" stroke-linecap="butt"/>
<line x1="27.48" y1="857.72" x2="33.08" y2="857.75" stroke="#000" stroke-width="1.25" stroke-linecap="butt"/>
<line x1="30.12" y1="853.18" x2="33.12" y2="853.2" stroke="#000" stroke-width="1.25" stroke-linecap="butt"/>
<line x1="30.17" y1="848.63" x2="33.17" y2="848.65" stroke="#000" stroke-width="1.25" stroke-linecap="butt"/>
<line x1="30.21" y1="844.08" x2="33.21" y2="844.1" stroke="#000" stroke-width="1.25" stroke-linecap="butt"/>
<line x1="30.25" y1="839.53" x2="33.25" y2="839.55" stroke="#000" stroke-width="1.25" stroke-linecap="butt"/>
<line x1="27.69" y1="834.97" x2="33.29" y2="835" stroke="#000" stroke-width="1.25" stroke-linecap="butt"/>
<line x1="30.33" y1="830.43" x2="33.33" y2="830.45" stroke="#000" stroke-width="1.25" stroke-linecap="butt"/>
<line x1="30.38" y1="825.88" x2="33.38" y2="825.9" stroke="#000" stroke-width="1.25" stroke-linecap="butt"/>
<line x1="30.42" y1="821.33" x2="33.42" y2="821.35" stroke="#000" stroke-width="1.25" stroke-linecap="butt"/>
<line x1="30.46" y1="816.78" x2="33.46" y2="816.8" stroke="#000" stroke-width="1.25" stroke-linecap="butt"/>
<line x1="27.9" y1="812.22" x2="33.5" y2="812.25" stroke="#000" stroke-width="1.25" stroke-linecap="butt"/>
<text x="22.85" y="946.05" font-family='"Liberation Sans", Arial, Helvetica, sans-serif' font-size="10.5" font-weight="normal" text-anchor="middle" transform="rotate(-90 22.85 946.05)" stroke="#000" stroke-width="0.25">0</text>
<text x="23.06" y="923.3" font-family='"Liberation Sans", Arial, Helvetica, sans-serif' font-size="10.5" font-weight="normal" text-anchor="middle" transform="rotate(-90 23.06 923.3)" stroke="#000" stroke-width="0.25">5</text>
<text x="23.27" y="900.55" font-family='"Liberation Sans", Arial, Helvetica, sans-serif' font-size="10.5" font-weight="normal" text-anchor="middle" transform="rotate(-90 23.27 900.55)" stroke="#000" stroke-width="0.25">10</text>
<text x="23.48" y="877.8" font-family='"Liberation Sans", Arial, Helvetica, sans-serif' font-size="10.5" font-weight="normal" text-anchor="middle" transform="rotate(-90 23.48 877.8)" stroke="#000" stroke-width="0.25">15</text>
<text x="23.68" y="855.05" font-family='"Liberation Sans", Arial, Helvetica, sans-serif' font-size="10.5" font-weight="normal" text-anchor="middle" transform="rotate(-90 23.68 855.05)" stroke="#000" stroke-width="0.25">20</text>
<text x="23.89" y="832.3" font-family='"Liberation Sans", Arial, Helvetica, sans-serif' font-size="10.5" font-weight="normal" text-anchor="middle" transform="rotate(-90 23.89 832.3)" stroke="#000" stroke-width="0.25">25</text>
<text x="24.1" y="809.55" font-family='"Liberation Sans", Arial, Helvetica, sans-serif' font-size="10.5" font-weight="normal" text-anchor="middle" transform="rotate(-90 24.1 809.55)" stroke="#000" stroke-width="0.25">30</text>
<text x="10.8" y="881.7" font-family='"Liberation Sans", Arial, Helvetica, sans-serif' font-size="10.7" font-weight="normal" text-anchor="middle" transform="rotate(-90 10.8 881.7)" stroke="#000" stroke-width="0.25">Counts</text>
<line x1="32.25" y1="948.75" x2="32.21" y2="954.55" stroke="#000" stroke-width="1.2" stroke-linecap="butt"/>
<text x="35.05" y="967.25" font-family='"Liberation Sans", Arial, Helvetica, sans-serif' font-size="10.7" font-weight="normal" text-anchor="end" stroke="#000" stroke-width="0.25">10</text>
<text x="35.45" y="961.65" font-family='"Liberation Sans", Arial, Helvetica, sans-serif' font-size="10.7" font-weight="normal" text-anchor="start" stroke="#000" stroke-width="0.25">0</text>
<line x1="65.55" y1="948.99" x2="65.53" y2="952.09" stroke="#000" stroke-width="1.1" stroke-linecap="butt"/>
<line x1="85.03" y1="949.13" x2="85.01" y2="952.23" stroke="#000" stroke-width="1.1" stroke-linecap="butt"/>
<line x1="98.85" y1="949.22" x2="98.83" y2="952.32" stroke="#000" stroke-width="1.1" stroke-linecap="butt"/>
<line x1="109.57" y1="949.3" x2="109.55" y2="952.4" stroke="#000" stroke-width="1.1" stroke-linecap="butt"/>
<line x1="118.33" y1="949.36" x2="118.31" y2="952.46" stroke="#000" stroke-width="1.1" stroke-linecap="butt"/>
<line x1="125.74" y1="949.42" x2="125.72" y2="952.52" stroke="#000" stroke-width="1.1" stroke-linecap="butt"/>
<line x1="132.15" y1="949.46" x2="132.13" y2="952.56" stroke="#000" stroke-width="1.1" stroke-linecap="butt"/>
<line x1="137.81" y1="949.5" x2="137.79" y2="952.6" stroke="#000" stroke-width="1.1" stroke-linecap="butt"/>
<line x1="142.88" y1="949.54" x2="142.84" y2="955.34" stroke="#000" stroke-width="1.2" stroke-linecap="butt"/>
<text x="145.68" y="968.04" font-family='"Liberation Sans", Arial, Helvetica, sans-serif' font-size="10.7" font-weight="normal" text-anchor="end" stroke="#000" stroke-width="0.25">10</text>
<text x="146.07" y="962.44" font-family='"Liberation Sans", Arial, Helvetica, sans-serif' font-size="10.7" font-weight="normal" text-anchor="start" stroke="#000" stroke-width="0.25">1</text>
<line x1="176.18" y1="949.77" x2="176.16" y2="952.87" stroke="#000" stroke-width="1.1" stroke-linecap="butt"/>
<line x1="195.66" y1="949.91" x2="195.64" y2="953.01" stroke="#000" stroke-width="1.1" stroke-linecap="butt"/>
<line x1="209.48" y1="950.01" x2="209.46" y2="953.11" stroke="#000" stroke-width="1.1" stroke-linecap="butt"/>
<line x1="220.2" y1="950.09" x2="220.18" y2="953.19" stroke="#000" stroke-width="1.1" stroke-linecap="butt"/>
<line x1="228.96" y1="950.15" x2="228.94" y2="953.25" stroke="#000" stroke-width="1.1" stroke-linecap="butt"/>
<line x1="236.36" y1="950.2" x2="236.34" y2="953.3" stroke="#000" stroke-width="1.1" stroke-linecap="butt"/>
<line x1="242.78" y1="950.25" x2="242.76" y2="953.35" stroke="#000" stroke-width="1.1" stroke-linecap="butt"/>
<line x1="248.44" y1="950.29" x2="248.42" y2="953.39" stroke="#000" stroke-width="1.1" stroke-linecap="butt"/>
<line x1="253.5" y1="950.33" x2="253.46" y2="956.12" stroke="#000" stroke-width="1.2" stroke-linecap="butt"/>
<text x="256.3" y="968.83" font-family='"Liberation Sans", Arial, Helvetica, sans-serif' font-size="10.7" font-weight="normal" text-anchor="end" stroke="#000" stroke-width="0.25">10</text>
<text x="256.7" y="963.23" font-family='"Liberation Sans", Arial, Helvetica, sans-serif' font-size="10.7" font-weight="normal" text-anchor="start" stroke="#000" stroke-width="0.25">2</text>
<line x1="286.8" y1="950.56" x2="286.78" y2="953.66" stroke="#000" stroke-width="1.1" stroke-linecap="butt"/>
<line x1="306.28" y1="950.7" x2="306.26" y2="953.8" stroke="#000" stroke-width="1.1" stroke-linecap="butt"/>
<line x1="320.1" y1="950.8" x2="320.08" y2="953.9" stroke="#000" stroke-width="1.1" stroke-linecap="butt"/>
<line x1="330.82" y1="950.88" x2="330.8" y2="953.98" stroke="#000" stroke-width="1.1" stroke-linecap="butt"/>
<line x1="339.58" y1="950.94" x2="339.56" y2="954.04" stroke="#000" stroke-width="1.1" stroke-linecap="butt"/>
<line x1="346.99" y1="950.99" x2="346.97" y2="954.09" stroke="#000" stroke-width="1.1" stroke-linecap="butt"/>
<line x1="353.4" y1="951.04" x2="353.38" y2="954.14" stroke="#000" stroke-width="1.1" stroke-linecap="butt"/>
<line x1="359.06" y1="951.08" x2="359.04" y2="954.18" stroke="#000" stroke-width="1.1" stroke-linecap="butt"/>
<line x1="364.12" y1="951.11" x2="364.08" y2="956.91" stroke="#000" stroke-width="1.2" stroke-linecap="butt"/>
<text x="366.93" y="969.61" font-family='"Liberation Sans", Arial, Helvetica, sans-serif' font-size="10.7" font-weight="normal" text-anchor="end" stroke="#000" stroke-width="0.25">10</text>
<text x="367.32" y="964.01" font-family='"Liberation Sans", Arial, Helvetica, sans-serif' font-size="10.7" font-weight="normal" text-anchor="start" stroke="#000" stroke-width="0.25">3</text>
<line x1="397.43" y1="951.35" x2="397.41" y2="954.45" stroke="#000" stroke-width="1.1" stroke-linecap="butt"/>
<line x1="416.91" y1="951.49" x2="416.89" y2="954.59" stroke="#000" stroke-width="1.1" stroke-linecap="butt"/>
<line x1="430.73" y1="951.59" x2="430.71" y2="954.69" stroke="#000" stroke-width="1.1" stroke-linecap="butt"/>
<line x1="441.45" y1="951.66" x2="441.43" y2="954.76" stroke="#000" stroke-width="1.1" stroke-linecap="butt"/>
<line x1="450.21" y1="951.73" x2="450.19" y2="954.83" stroke="#000" stroke-width="1.1" stroke-linecap="butt"/>
<line x1="457.61" y1="951.78" x2="457.59" y2="954.88" stroke="#000" stroke-width="1.1" stroke-linecap="butt"/>
<line x1="464.03" y1="951.82" x2="464.01" y2="954.92" stroke="#000" stroke-width="1.1" stroke-linecap="butt"/>
<line x1="469.69" y1="951.86" x2="469.67" y2="954.96" stroke="#000" stroke-width="1.1" stroke-linecap="butt"/>
<line x1="474.75" y1="951.9" x2="474.71" y2="957.7" stroke="#000" stroke-width="1.2" stroke-linecap="butt"/>
<text x="477.55" y="970.4" font-family='"Liberation Sans", Arial, Helvetica, sans-serif' font-size="10.7" font-weight="normal" text-anchor="end" stroke="#000" stroke-width="0.25">10</text>
<text x="477.95" y="964.8" font-family='"Liberation Sans", Arial, Helvetica, sans-serif' font-size="10.7" font-weight="normal" text-anchor="start" stroke="#000" stroke-width="0.25">4</text>
<line x1="187" y1="885.6" x2="475.75" y2="888.75" stroke="#000" stroke-width="1.3" stroke-linecap="butt"/>
<line x1="187.1" y1="875.8" x2="186.9" y2="895.4" stroke="#000" stroke-width="1.35" stroke-linecap="butt"/>
<text x="332" y="899.8" font-family='"Liberation Sans", Arial, Helvetica, sans-serif' font-size="10.3" font-weight="normal" text-anchor="start" letter-spacing="1.9" stroke="#000" stroke-width="0.25">M1</text>
<text font-family='"Liberation Sans", Arial, Helvetica, sans-serif' font-weight="bold" font-size="19.6" y="840.5"><tspan x="387.8">D.</tspan><tspan x="417.9">I</tspan><tspan x="424.8" font-size="13.4">g</tspan><tspan x="435.2">G</tspan><tspan x="453.8" dy="2.3" font-size="11">1</tspan></text>
<text x="402.6" y="859.8" font-family='"Liberation Sans", Arial, Helvetica, sans-serif' font-size="16.5" font-weight="normal" text-anchor="start">- bFGF</text>
<text x="226.3" y="1005.8" font-family='"Liberation Serif", "Times New Roman", serif' font-size="20.4" font-weight="bold" text-anchor="start" textLength="50.4" lengthAdjust="spacingAndGlyphs">FITC</text>
</g>
<g id="panelE">
<path d="M34 1221.32 L34 1221.02 L34.9 1221.02 L34.9 1216.48 L35.8 1216.48 L35.8 1216.49 L36.7 1216.49 L36.7 1216.5 L37.6 1216.5 L37.6 1211.96 L38.5 1211.96 L38.5 1216.51 L39.4 1216.51 L39.4 1216.51 L40.3 1216.51 L40.3 1216.52 L41.2 1216.52 L41.2 1216.52 L42.1 1216.52 L42.1 1216.53 L43 1216.53 L43 1216.53 L43.9 1216.53 L43.9 1221.08 L44.8 1221.08 L44.8 1216.55 L45.7 1216.55 L45.7 1216.55 L46.6 1216.55 L46.6 1212.02 L47.5 1212.02 L47.5 1212.02 L48.4 1212.02 L48.4 1216.57 L49.3 1216.57 L49.3 1212.03 L50.2 1212.03 L50.2 1212.04 L51.1 1212.04 L51.1 1207.51 L52 1207.51 L52 1202.97 L52.9 1202.97 L52.9 1202.98 L53.8 1202.98 L53.8 1207.52 L54.7 1207.52 L54.7 1207.53 L55.6 1207.53 L55.6 1202.99 L56.5 1202.99 L56.5 1203 L57.4 1203 L57.4 1203 L58.3 1203 L58.3 1203.01 L59.2 1203.01 L59.2 1203.02 L60.1 1203.02 L60.1 1207.56 L61 1207.56 L61 1207.57 L61.9 1207.57 L61.9 1212.11 L62.8 1212.11 L62.8 1216.66 L63.7 1216.66 L63.7 1212.12 L64.6 1212.12 L64.6 1216.67 L65.5 1216.67 L65.5 1216.67 L66.4 1216.67 L66.4 1207.6 L67.3 1207.6 L67.3 1207.61 L68.2 1207.61 L68.2 1203.07 L69.1 1203.07 L69.1 1207.62 L70 1207.62 L70 1198.54 L70.9 1198.54 L70.9 1207.63 L71.8 1207.63 L71.8 1207.63 L72.7 1207.63 L72.7 1207.64 L73.6 1207.64 L73.6 1207.64 L74.5 1207.64 L74.5 1212.19 L75.4 1212.19 L75.4 1212.2 L76.3 1212.2 L76.3 1216.74 L77.2 1216.74 L77.2 1207.67 L78.1 1207.67 L78.1 1212.21 L79 1212.21 L79 1207.68 L79.9 1207.68 L79.9 1207.68 L80.8 1207.68 L80.8 1212.23 L81.7 1212.23 L81.7 1212.24 L82.6 1212.24 L82.6 1212.24 L83.5 1212.24 L83.5 1212.25 L84.4 1212.25 L84.4 1212.25 L85.3 1212.25 L85.3 1216.8 L86.2 1216.8 L86.2 1212.26 L87.1 1212.26 L87.1 1212.27 L88 1212.27 L88 1207.73 L88.9 1207.73 L88.9 1207.74 L89.8 1207.74 L89.8 1212.29 L90.7 1212.29 L90.7 1212.29 L91.6 1212.29 L91.6 1212.3 L92.5 1212.3 L92.5 1212.3 L93.4 1212.3 L93.4 1212.31 L94.3 1212.31 L94.3 1216.85 L95.2 1216.85 L95.2 1207.78 L96.1 1207.78 L96.1 1207.78 L97 1207.78 L97 1207.79 L97.9 1207.79 L97.9 1216.88 L98.8 1216.88 L98.8 1216.88 L99.7 1216.88 L99.7 1212.35 L100.6 1212.35 L100.6 1216.89 L101.5 1216.89 L101.5 1212.36 L102.4 1212.36 L102.4 1212.36 L103.3 1212.36 L103.3 1212.37 L104.2 1212.37 L104.2 1207.84 L105.1 1207.84 L105.1 1207.84 L106 1207.84 L106 1207.85 L106.9 1207.85 L106.9 1207.85 L107.8 1207.85 L107.8 1207.86 L108.7 1207.86 L108.7 1207.86 L109.6 1207.86 L109.6 1207.87 L110.5 1207.87 L110.5 1212.41 L111.4 1212.41 L111.4 1212.42 L112.3 1212.42 L112.3 1216.97 L113.2 1216.97 L113.2 1212.43 L114.1 1212.43 L114.1 1212.44 L115 1212.44 L115 1207.9 L115.9 1207.9 L115.9 1212.45 L116.8 1212.45 L116.8 1212.45 L117.7 1212.45 L117.7 1207.92 L118.6 1207.92 L118.6 1207.92 L119.5 1207.92 L119.5 1207.93 L120.4 1207.93 L120.4 1207.94 L121.3 1207.94 L121.3 1217.02 L122.2 1217.02 L122.2 1212.49 L123.1 1212.49 L123.1 1217.03 L124 1217.03 L124 1212.5 L124.9 1212.5 L124.9 1212.5 L125.8 1212.5 L125.8 1212.51 L126.7 1212.51 L126.7 1207.98 L127.6 1207.98 L127.6 1207.98 L128.5 1207.98 L128.5 1207.99 L129.4 1207.99 L129.4 1207.99 L130.3 1207.99 L130.3 1208 L131.2 1208 L131.2 1212.54 L132.1 1212.54 L132.1 1212.55 L133 1212.55 L133 1212.55 L133.9 1212.55 L133.9 1217.1 L134.8 1217.1 L134.8 1212.57 L135.7 1212.57 L135.7 1212.57 L136.6 1212.57 L136.6 1212.58 L137.5 1212.58 L137.5 1208.04 L138.4 1208.04 L138.4 1203.51 L139.3 1203.51 L139.3 1212.59 L140.2 1212.59 L140.2 1203.52 L141.1 1203.52 L141.1 1208.06 L142 1208.06 L142 1212.61 L142.9 1212.61 L142.9 1203.54 L143.8 1203.54 L143.8 1208.08 L144.7 1208.08 L144.7 1208.09 L145.6 1208.09 L145.6 1208.09 L146.5 1208.09 L146.5 1208.1 L147.4 1208.1 L147.4 1203.56 L148.3 1203.56 L148.3 1208.11 L149.2 1208.11 L149.2 1203.58 L150.1 1203.58 L150.1 1203.58 L151 1203.58 L151 1208.13 L151.9 1208.13 L151.9 1208.13 L152.8 1208.13 L152.8 1203.6 L153.7 1203.6 L153.7 1208.14 L154.6 1208.14 L154.6 1208.15 L155.5 1208.15 L155.5 1203.61 L156.4 1203.61 L156.4 1199.08 L157.3 1199.08 L157.3 1199.09 L158.2 1199.09 L158.2 1199.09 L159.1 1199.09 L159.1 1199.1 L160 1199.1 L160 1203.64 L160.9 1203.64 L160.9 1203.65 L161.8 1203.65 L161.8 1208.19 L162.7 1208.19 L162.7 1199.12 L163.6 1199.12 L163.6 1199.12 L164.5 1199.12 L164.5 1199.13 L165.4 1199.13 L165.4 1199.14 L166.3 1199.14 L166.3 1199.14 L167.2 1199.14 L167.2 1194.61 L168.1 1194.61 L168.1 1190.07 L169 1190.07 L169 1194.62 L169.9 1194.62 L169.9 1199.16 L170.8 1199.16 L170.8 1194.63 L171.7 1194.63 L171.7 1194.64 L172.6 1194.64 L172.6 1194.64 L173.5 1194.64 L173.5 1199.19 L174.4 1199.19 L174.4 1199.19 L175.3 1199.19 L175.3 1203.74 L176.2 1203.74 L176.2 1203.74 L177.1 1203.74 L177.1 1203.75 L178 1203.75 L178 1203.75 L178.9 1203.75 L178.9 1194.68 L179.8 1194.68 L179.8 1194.69 L180.7 1194.69 L180.7 1190.15 L181.6 1190.15 L181.6 1194.7 L182.5 1194.7 L182.5 1194.7 L183.4 1194.7 L183.4 1190.17 L184.3 1190.17 L184.3 1185.63 L185.2 1185.63 L185.2 1185.64 L186.1 1185.64 L186.1 1181.1 L187 1181.1 L187 1181.11 L187.9 1181.11 L187.9 1181.12 L188.8 1181.12 L188.8 1181.12 L189.7 1181.12 L189.7 1190.21 L190.6 1190.21 L190.6 1185.67 L191.5 1185.67 L191.5 1185.68 L192.4 1185.68 L192.4 1181.14 L193.3 1181.14 L193.3 1185.69 L194.2 1185.69 L194.2 1181.16 L195.1 1181.16 L195.1 1181.16 L196 1181.16 L196 1185.71 L196.9 1185.71 L196.9 1185.71 L197.8 1185.71 L197.8 1181.18 L198.7 1181.18 L198.7 1181.18 L199.6 1181.18 L199.6 1176.65 L200.5 1176.65 L200.5 1176.65 L201.4 1176.65 L201.4 1181.2 L202.3 1181.2 L202.3 1176.67 L203.2 1176.67 L203.2 1181.21 L204.1 1181.21 L204.1 1172.14 L205 1172.14 L205 1172.14 L205.9 1172.14 L205.9 1172.15 L206.8 1172.15 L206.8 1181.23 L207.7 1181.23 L207.7 1181.24 L208.6 1181.24 L208.6 1181.24 L209.5 1181.24 L209.5 1167.63 L210.4 1167.63 L210.4 1181.26 L211.3 1181.26 L211.3 1185.8 L212.2 1185.8 L212.2 1190.35 L213.1 1190.35 L213.1 1190.35 L214 1190.35 L214 1190.36 L214.9 1190.36 L214.9 1185.82 L215.8 1185.82 L215.8 1190.37 L216.7 1190.37 L216.7 1190.38 L217.6 1190.38 L217.6 1185.84 L218.5 1185.84 L218.5 1176.77 L219.4 1176.77 L219.4 1163.15 L220.3 1163.15 L220.3 1172.24 L221.2 1172.24 L221.2 1181.32 L222.1 1181.32 L222.1 1194.95 L223 1194.95 L223 1190.41 L223.9 1190.41 L223.9 1190.42 L224.8 1190.42 L224.8 1190.43 L225.7 1190.43 L225.7 1199.51 L226.6 1199.51 L226.6 1194.98 L227.5 1194.98 L227.5 1199.52 L228.4 1199.52 L228.4 1199.53 L229.3 1199.53 L229.3 1204.07 L230.2 1204.07 L230.2 1199.54 L231.1 1199.54 L231.1 1195 L232 1195 L232 1204.09 L232.9 1204.09 L232.9 1204.1 L233.8 1204.1 L233.8 1208.64 L234.7 1208.64 L234.7 1208.65 L235.6 1208.65 L235.6 1204.11 L236.5 1204.11 L236.5 1204.12 L237.4 1204.12 L237.4 1213.2 L238.3 1213.2 L238.3 1208.67 L239.2 1208.67 L239.2 1217.76 L240.1 1217.76 L240.1 1213.22 L241 1213.22 L241 1217.77 L241.9 1217.77 L241.9 1217.77 L242.8 1217.77 L242.8 1217.78 L243.7 1217.78 L243.7 1217.78 L244.6 1217.78 L244.6 1222.33 L245.5 1222.33 L245.5 1217.79 L246.4 1217.79 L246.4 1217.8 L247.3 1217.8 L247.3 1217.81 L248.2 1217.81 L248.2 1217.81 L249.1 1217.81 L249.1 1217.82 L250 1217.82 L250 1217.82 L250.9 1217.82 L250.9 1213.29 L251.8 1213.29 L251.8 1213.29 L252.7 1213.29 L252.7 1217.84 L253.6 1217.84 L253.6 1213.3 L254.5 1213.3 L254.5 1217.85 L255.4 1217.85 L255.4 1213.32 L256.3 1213.32 L256.3 1217.86 L257.2 1217.86 L257.2 1217.87 L258.1 1217.87 L258.1 1217.87 L259 1217.87 L259 1213.34 L259.9 1213.34 L259.9 1213.34 L260.8 1213.34 L260.8 1217.89 L261.7 1217.89 L261.7 1217.9 L262.6 1217.9 L262.6 1217.9 L263.5 1217.9 L263.5 1222.45 L264.4 1222.45 L264.4 1217.91 L265.3 1217.91 L265.3 1217.92 L266.2 1217.92 L266.2 1217.92 L267.1 1217.92 L267.1 1217.93 L268 1217.93 L268 1213.39 L268.9 1213.39 L268.9 1217.94 L269.8 1217.94 L269.8 1213.41 L270.7 1213.41 L270.7 1217.95 L271.6 1217.95 L271.6 1222.5 L272.5 1222.5 L272.5 1213.42 L273.4 1213.42 L273.4 1217.97 L274.3 1217.97 L274.3 1217.97 L275.2 1217.97 L275.2 1217.98 L276.1 1217.98 L276.1 1217.98 L277 1217.98 L277 1217.99 L277.9 1217.99 L277.9 1213.46 L278.8 1213.46 L278.8 1218 L279.7 1218 L279.7 1218.01 L280.6 1218.01 L280.6 1222.55 L281.5 1222.55 L281.5 1218.02 L282.4 1218.02 L282.4 1218.02 L283.3 1218.02 L283.3 1218.03 L284.2 1218.03 L284.2 1213.49 L285.1 1213.49 L285.1 1218.04 L286 1218.04 L286 1218.05 L286.9 1218.05 L286.9 1222.59 L287.8 1222.59 L287.8 1222.6 L288.7 1222.6 L288.7 1222.6 L289.6 1222.6 L289.6 1222.61 L290.5 1222.61 L290.5 1222.61 L291.4 1222.61 L291.4 1222.62 L292.3 1222.62 L292.3 1222.63 L293.2 1222.63 L293.2 1222.63 L294.1 1222.63 L294.1 1218.1 L295 1218.1 L295 1222.64 L295.9 1222.64 L295.9 1218.11 L296.8 1218.11 L296.8 1222.65 L296.8 1222.95 Z" fill="#050505"/>
<path d="M459.3 1223.8 L460.9 1218.6 L462.6 1223.8 Z" fill="#000"/>
<line x1="31.9" y1="1085" x2="475" y2="1087.9" stroke="#000" stroke-width="1.3" stroke-linecap="square"/>
<line x1="475" y1="1087.9" x2="473.1" y2="1223.75" stroke="#000" stroke-width="1.35" stroke-linecap="square"/>
<line x1="31.9" y1="1085" x2="31" y2="1221" stroke="#000" stroke-width="1.7" stroke-linecap="square"/>
<line x1="31" y1="1221" x2="473.1" y2="1223.75" stroke="#000" stroke-width="1.7" stroke-linecap="square"/>
<line x1="25.4" y1="1220.97" x2="31" y2="1221" stroke="#000" stroke-width="1.25" stroke-linecap="butt"/>
<line x1="28.03" y1="1216.45" x2="31.03" y2="1216.47" stroke="#000" stroke-width="1.25" stroke-linecap="butt"/>
<line x1="28.06" y1="1211.92" x2="31.06" y2="1211.93" stroke="#000" stroke-width="1.25" stroke-linecap="butt"/>
<line x1="28.09" y1="1207.38" x2="31.09" y2="1207.4" stroke="#000" stroke-width="1.25" stroke-linecap="butt"/>
<line x1="28.12" y1="1202.85" x2="31.12" y2="1202.87" stroke="#000" stroke-width="1.25" stroke-linecap="butt"/>
<line x1="25.55" y1="1198.3" x2="31.15" y2="1198.33" stroke="#000" stroke-width="1.25" stroke-linecap="butt"/>
<line x1="28.18" y1="1193.78" x2="31.18" y2="1193.8" stroke="#000" stroke-width="1.25" stroke-linecap="butt"/>
<line x1="28.21" y1="1189.25" x2="31.21" y2="1189.27" stroke="#000" stroke-width="1.25" stroke-linecap="butt"/>
<line x1="28.24" y1="1184.72" x2="31.24" y2="1184.73" stroke="#000" stroke-width="1.25" stroke-linecap="butt"/>
<line x1="28.27" y1="1180.18" x2="31.27" y2="1180.2" stroke="#000" stroke-width="1.25" stroke-linecap="butt"/>
<line x1="25.7" y1="1175.63" x2="31.3" y2="1175.67" stroke="#000" stroke-width="1.25" stroke-linecap="butt"/>
<line x1="28.33" y1="1171.12" x2="31.33" y2="1171.13" stroke="#000" stroke-width="1.25" stroke-linecap="butt"/>
<line x1="28.36" y1="1166.58" x2="31.36" y2="1166.6" stroke="#000" stroke-width="1.25" stroke-linecap="butt"/>
<line x1="28.39" y1="1162.05" x2="31.39" y2="1162.07" stroke="#000" stroke-width="1.25" stroke-linecap="butt"/>
<line x1="28.42" y1="1157.52" x2="31.42" y2="1157.53" stroke="#000" stroke-width="1.25" stroke-linecap="butt"/>
<line x1="25.85" y1="1152.97" x2="31.45" y2="1153" stroke="#000" stroke-width="1.25" stroke-linecap="butt"/>
<line x1="28.48" y1="1148.45" x2="31.48" y2="1148.47" stroke="#000" stroke-width="1.25" stroke-linecap="butt"/>
<line x1="28.51" y1="1143.92" x2="31.51" y2="1143.93" stroke="#000" stroke-width="1.25" stroke-linecap="butt"/>
<line x1="28.54" y1="1139.38" x2="31.54" y2="1139.4" stroke="#000" stroke-width="1.25" stroke-linecap="butt"/>
<line x1="28.57" y1="1134.85" x2="31.57" y2="1134.87" stroke="#000" stroke-width="1.25" stroke-linecap="butt"/>
<line x1="26" y1="1130.3" x2="31.6" y2="1130.33" stroke="#000" stroke-width="1.25" stroke-linecap="butt"/>
<line x1="28.63" y1="1125.78" x2="31.63" y2="1125.8" stroke="#000" stroke-width="1.25" stroke-linecap="butt"/>
<line x1="28.66" y1="1121.25" x2="31.66" y2="1121.27" stroke="#000" stroke-width="1.25" stroke-linecap="butt"/>
<line x1="28.69" y1="1116.72" x2="31.69" y2="1116.73" stroke="#000" stroke-width="1.25" stroke-linecap="butt"/>
<line x1="28.72" y1="1112.18" x2="31.72" y2="1112.2" stroke="#000" stroke-width="1.25" stroke-linecap="butt"/>
<line x1="26.15" y1="1107.63" x2="31.75" y2="1107.67" stroke="#000" stroke-width="1.25" stroke-linecap="butt"/>
<line x1="28.78" y1="1103.12" x2="31.78" y2="1103.13" stroke="#000" stroke-width="1.25" stroke-linecap="butt"/>
<line x1="28.81" y1="1098.58" x2="31.81" y2="1098.6" stroke="#000" stroke-width="1.25" stroke-linecap="butt"/>
<line x1="28.84" y1="1094.05" x2="31.84" y2="1094.07" stroke="#000" stroke-width="1.25" stroke-linecap="butt"/>
<line x1="28.87" y1="1089.52" x2="31.87" y2="1089.53" stroke="#000" stroke-width="1.25" stroke-linecap="butt"/>
<line x1="26.3" y1="1084.97" x2="31.9" y2="1085" stroke="#000" stroke-width="1.25" stroke-linecap="butt"/>
<text x="21.6" y="1218.3" font-family='"Liberation Sans", Arial, Helvetica, sans-serif' font-size="10.5" font-weight="normal" text-anchor="middle" transform="rotate(-90 21.6 1218.3)" stroke="#000" stroke-width="0.25">0</text>
<text x="21.75" y="1195.63" font-family='"Liberation Sans", Arial, Helvetica, sans-serif' font-size="10.5" font-weight="normal" text-anchor="middle" transform="rotate(-90 21.75 1195.63)" stroke="#000" stroke-width="0.25">5</text>
<text x="21.9" y="1172.97" font-family='"Liberation Sans", Arial, Helvetica, sans-serif' font-size="10.5" font-weight="normal" text-anchor="middle" transform="rotate(-90 21.9 1172.97)" stroke="#000" stroke-width="0.25">10</text>
<text x="22.05" y="1150.3" font-family='"Liberation Sans", Arial, Helvetica, sans-serif' font-size="10.5" font-weight="normal" text-anchor="middle" transform="rotate(-90 22.05 1150.3)" stroke="#000" stroke-width="0.25">15</text>
<text x="22.2" y="1127.63" font-family='"Liberation Sans", Arial, Helvetica, sans-serif' font-size="10.5" font-weight="normal" text-anchor="middle" transform="rotate(-90 22.2 1127.63)" stroke="#000" stroke-width="0.25">20</text>
<text x="22.35" y="1104.97" font-family='"Liberation Sans", Arial, Helvetica, sans-serif' font-size="10.5" font-weight="normal" text-anchor="middle" transform="rotate(-90 22.35 1104.97)" stroke="#000" stroke-width="0.25">25</text>
<text x="22.5" y="1082.3" font-family='"Liberation Sans", Arial, Helvetica, sans-serif' font-size="10.5" font-weight="normal" text-anchor="middle" transform="rotate(-90 22.5 1082.3)" stroke="#000" stroke-width="0.25">30</text>
<text x="9.6" y="1154.2" font-family='"Liberation Sans", Arial, Helvetica, sans-serif' font-size="10.7" font-weight="normal" text-anchor="middle" transform="rotate(-90 9.6 1154.2)" stroke="#000" stroke-width="0.25">Counts</text>
<line x1="31" y1="1221" x2="30.96" y2="1226.8" stroke="#000" stroke-width="1.2" stroke-linecap="butt"/>
<text x="33.8" y="1239.5" font-family='"Liberation Sans", Arial, Helvetica, sans-serif' font-size="10.7" font-weight="normal" text-anchor="end" stroke="#000" stroke-width="0.25">10</text>
<text x="34.2" y="1233.9" font-family='"Liberation Sans", Arial, Helvetica, sans-serif' font-size="10.7" font-weight="normal" text-anchor="start" stroke="#000" stroke-width="0.25">0</text>
<line x1="64.27" y1="1221.21" x2="64.25" y2="1224.31" stroke="#000" stroke-width="1.1" stroke-linecap="butt"/>
<line x1="83.73" y1="1221.33" x2="83.71" y2="1224.43" stroke="#000" stroke-width="1.1" stroke-linecap="butt"/>
<line x1="97.54" y1="1221.41" x2="97.52" y2="1224.51" stroke="#000" stroke-width="1.1" stroke-linecap="butt"/>
<line x1="108.25" y1="1221.48" x2="108.23" y2="1224.58" stroke="#000" stroke-width="1.1" stroke-linecap="butt"/>
<line x1="117.01" y1="1221.53" x2="116.99" y2="1224.63" stroke="#000" stroke-width="1.1" stroke-linecap="butt"/>
<line x1="124.4" y1="1221.58" x2="124.38" y2="1224.68" stroke="#000" stroke-width="1.1" stroke-linecap="butt"/>
<line x1="130.81" y1="1221.62" x2="130.79" y2="1224.72" stroke="#000" stroke-width="1.1" stroke-linecap="butt"/>
<line x1="136.47" y1="1221.66" x2="136.45" y2="1224.76" stroke="#000" stroke-width="1.1" stroke-linecap="butt"/>
<line x1="141.53" y1="1221.69" x2="141.49" y2="1227.49" stroke="#000" stroke-width="1.2" stroke-linecap="butt"/>
<text x="144.33" y="1240.19" font-family='"Liberation Sans", Arial, Helvetica, sans-serif' font-size="10.7" font-weight="normal" text-anchor="end" stroke="#000" stroke-width="0.25">10</text>
<text x="144.72" y="1234.59" font-family='"Liberation Sans", Arial, Helvetica, sans-serif' font-size="10.7" font-weight="normal" text-anchor="start" stroke="#000" stroke-width="0.25">1</text>
<line x1="174.8" y1="1221.89" x2="174.78" y2="1224.99" stroke="#000" stroke-width="1.1" stroke-linecap="butt"/>
<line x1="194.26" y1="1222.02" x2="194.24" y2="1225.12" stroke="#000" stroke-width="1.1" stroke-linecap="butt"/>
<line x1="208.07" y1="1222.1" x2="208.05" y2="1225.2" stroke="#000" stroke-width="1.1" stroke-linecap="butt"/>
<line x1="218.78" y1="1222.17" x2="218.76" y2="1225.27" stroke="#000" stroke-width="1.1" stroke-linecap="butt"/>
<line x1="227.53" y1="1222.22" x2="227.51" y2="1225.32" stroke="#000" stroke-width="1.1" stroke-linecap="butt"/>
<line x1="234.93" y1="1222.27" x2="234.91" y2="1225.37" stroke="#000" stroke-width="1.1" stroke-linecap="butt"/>
<line x1="241.34" y1="1222.31" x2="241.32" y2="1225.41" stroke="#000" stroke-width="1.1" stroke-linecap="butt"/>
<line x1="246.99" y1="1222.34" x2="246.97" y2="1225.44" stroke="#000" stroke-width="1.1" stroke-linecap="butt"/>
<line x1="252.05" y1="1222.38" x2="252.01" y2="1228.17" stroke="#000" stroke-width="1.2" stroke-linecap="butt"/>
<text x="254.85" y="1240.88" font-family='"Liberation Sans", Arial, Helvetica, sans-serif' font-size="10.7" font-weight="normal" text-anchor="end" stroke="#000" stroke-width="0.25">10</text>
<text x="255.25" y="1235.28" font-family='"Liberation Sans", Arial, Helvetica, sans-serif' font-size="10.7" font-weight="normal" text-anchor="start" stroke="#000" stroke-width="0.25">2</text>
<line x1="285.32" y1="1222.58" x2="285.3" y2="1225.68" stroke="#000" stroke-width="1.1" stroke-linecap="butt"/>
<line x1="304.78" y1="1222.7" x2="304.76" y2="1225.8" stroke="#000" stroke-width="1.1" stroke-linecap="butt"/>
<line x1="318.59" y1="1222.79" x2="318.57" y2="1225.89" stroke="#000" stroke-width="1.1" stroke-linecap="butt"/>
<line x1="329.3" y1="1222.86" x2="329.28" y2="1225.96" stroke="#000" stroke-width="1.1" stroke-linecap="butt"/>
<line x1="338.06" y1="1222.91" x2="338.04" y2="1226.01" stroke="#000" stroke-width="1.1" stroke-linecap="butt"/>
<line x1="345.45" y1="1222.96" x2="345.43" y2="1226.06" stroke="#000" stroke-width="1.1" stroke-linecap="butt"/>
<line x1="351.86" y1="1223" x2="351.84" y2="1226.1" stroke="#000" stroke-width="1.1" stroke-linecap="butt"/>
<line x1="357.52" y1="1223.03" x2="357.5" y2="1226.13" stroke="#000" stroke-width="1.1" stroke-linecap="butt"/>
<line x1="362.58" y1="1223.06" x2="362.54" y2="1228.86" stroke="#000" stroke-width="1.2" stroke-linecap="butt"/>
<text x="365.38" y="1241.56" font-family='"Liberation Sans", Arial, Helvetica, sans-serif' font-size="10.7" font-weight="normal" text-anchor="end" stroke="#000" stroke-width="0.25">10</text>
<text x="365.78" y="1235.96" font-family='"Liberation Sans", Arial, Helvetica, sans-serif' font-size="10.7" font-weight="normal" text-anchor="start" stroke="#000" stroke-width="0.25">3</text>
<line x1="395.85" y1="1223.27" x2="395.83" y2="1226.37" stroke="#000" stroke-width="1.1" stroke-linecap="butt"/>
<line x1="415.31" y1="1223.39" x2="415.29" y2="1226.49" stroke="#000" stroke-width="1.1" stroke-linecap="butt"/>
<line x1="429.12" y1="1223.48" x2="429.1" y2="1226.58" stroke="#000" stroke-width="1.1" stroke-linecap="butt"/>
<line x1="439.83" y1="1223.54" x2="439.81" y2="1226.64" stroke="#000" stroke-width="1.1" stroke-linecap="butt"/>
<line x1="448.58" y1="1223.6" x2="448.56" y2="1226.7" stroke="#000" stroke-width="1.1" stroke-linecap="butt"/>
<line x1="455.98" y1="1223.64" x2="455.96" y2="1226.74" stroke="#000" stroke-width="1.1" stroke-linecap="butt"/>
<line x1="462.39" y1="1223.68" x2="462.37" y2="1226.78" stroke="#000" stroke-width="1.1" stroke-linecap="butt"/>
<line x1="468.04" y1="1223.72" x2="468.02" y2="1226.82" stroke="#000" stroke-width="1.1" stroke-linecap="butt"/>
<line x1="473.1" y1="1223.75" x2="473.06" y2="1229.55" stroke="#000" stroke-width="1.2" stroke-linecap="butt"/>
<text x="475.9" y="1242.25" font-family='"Liberation Sans", Arial, Helvetica, sans-serif' font-size="10.7" font-weight="normal" text-anchor="end" stroke="#000" stroke-width="0.25">10</text>
<text x="476.3" y="1236.65" font-family='"Liberation Sans", Arial, Helvetica, sans-serif' font-size="10.7" font-weight="normal" text-anchor="start" stroke="#000" stroke-width="0.25">4</text>
<line x1="184.5" y1="1158.3" x2="473.98" y2="1161" stroke="#000" stroke-width="1.3" stroke-linecap="butt"/>
<line x1="184.6" y1="1148.5" x2="184.4" y2="1168.1" stroke="#000" stroke-width="1.35" stroke-linecap="butt"/>
<text x="330.8" y="1171.5" font-family='"Liberation Sans", Arial, Helvetica, sans-serif' font-size="10.3" font-weight="normal" text-anchor="start" letter-spacing="1.9" stroke="#000" stroke-width="0.25">M1</text>
<text font-family='"Liberation Sans", Arial, Helvetica, sans-serif' font-weight="bold" font-size="19.8" y="1110.1"><tspan x="332.7">E.</tspan><tspan x="357.8" textLength="97.8" lengthAdjust="spacingAndGlyphs">E-selectin</tspan></text>
<text x="401.5" y="1129.7" font-family='"Liberation Sans", Arial, Helvetica, sans-serif' font-size="16.5" font-weight="normal" text-anchor="start">- bFGF</text>
<text x="223.6" y="1276.8" font-family='"Liberation Serif", "Times New Roman", serif' font-size="20.4" font-weight="bold" text-anchor="start" textLength="50.4" lengthAdjust="spacingAndGlyphs">FITC</text>
</g>
</svg>
</body></html>
